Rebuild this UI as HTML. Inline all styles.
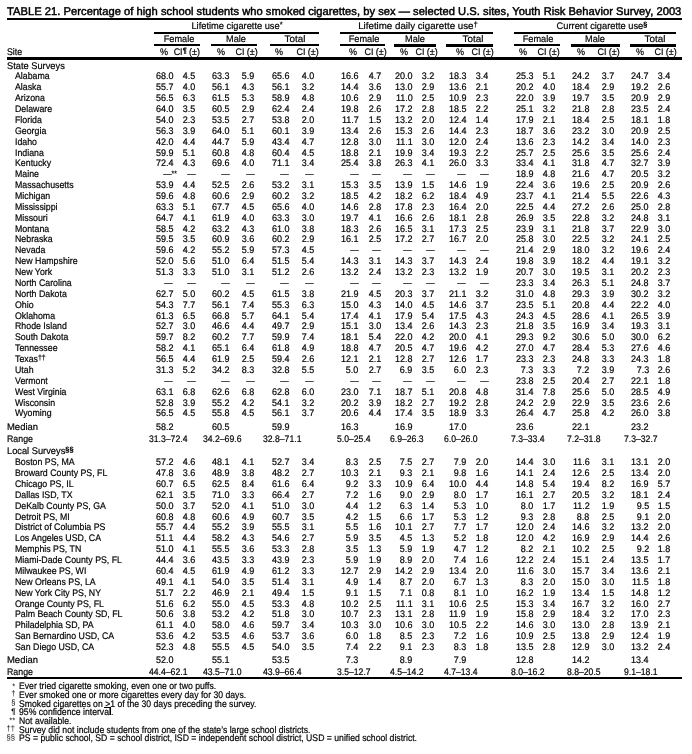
<!DOCTYPE html>
<html><head><meta charset="utf-8"><title>Table 21</title>
<style>
html,body{margin:0;padding:0;background:#fff;}
body{width:692px;height:754px;position:relative;overflow:hidden;font-family:"Liberation Sans",sans-serif;font-size:9.55px;color:#000;text-rendering:geometricPrecision;}
#w{-webkit-text-stroke:0.2px #000;left:0;top:0;width:692px;height:754px;will-change:transform;}
div{position:absolute;white-space:nowrap;}
.r{background:#000;}
.title{-webkit-text-stroke:0.45px #000;font-weight:normal;letter-spacing:0.03px;}
sup{font-size:7.6px;vertical-align:baseline;position:relative;top:-2.2px;line-height:0;}
sup.b{font-weight:bold;}
div.fs{-webkit-text-stroke:0;}
sup.h{position:absolute;left:100%;top:auto;bottom:7px;}
u{text-decoration:underline;}
</style></head><body><div id="w">
<div class="title" style="top:5px;line-height:15px;font-size:11.2px;left:6.90px;transform:scaleX(0.998);transform-origin:0 0;">TABLE 21. Percentage of high school students who smoked cigarettes, by sex — selected U.S. sites, Youth Risk Behavior Survey, 2003</div>
<div class="r" style="left:6.90px;width:675.10px;top:18.00px;height:1.60px"></div>
<div style="top:20px;line-height:13px;left:136.60px;width:200px;text-align:center;transform:scaleX(0.972);transform-origin:50% 0;">Lifetime cigarette use<sup>*</sup></div>
<div style="top:20px;line-height:13px;left:318.25px;width:200px;text-align:center;transform:scaleX(1.02);transform-origin:50% 0;">Lifetime daily cigarette use<sup>†</sup></div>
<div style="top:20px;line-height:13px;left:501.50px;width:200px;text-align:center;transform:scaleX(0.972);transform-origin:50% 0;">Current cigarette use<sup class="b">§</sup></div>
<div class="r" style="left:153.75px;width:165.00px;top:32.20px;height:1.40px"></div>
<div class="r" style="left:340.00px;width:153.00px;top:32.00px;height:1.90px"></div>
<div class="r" style="left:514.25px;width:161.50px;top:32.00px;height:1.90px"></div>
<div style="top:33px;line-height:13px;left:79.40px;width:200px;text-align:center;transform:scaleX(0.96);transform-origin:50% 0;">Female</div>
<div class="r" style="left:153.75px;width:46.25px;top:43.95px;height:1.85px"></div>
<div style="top:33px;line-height:13px;left:135.60px;width:200px;text-align:center;transform:scaleX(0.96);transform-origin:50% 0;">Male</div>
<div class="r" style="left:210.75px;width:46.25px;top:43.95px;height:1.85px"></div>
<div style="top:33px;line-height:13px;left:194.75px;width:200px;text-align:center;transform:scaleX(1.03);transform-origin:50% 0;">Total</div>
<div class="r" style="left:270.00px;width:48.75px;top:43.95px;height:1.85px"></div>
<div style="top:33px;line-height:13px;left:264.00px;width:200px;text-align:center;transform:scaleX(0.96);transform-origin:50% 0;">Female</div>
<div class="r" style="left:340.00px;width:45.00px;top:43.95px;height:1.85px"></div>
<div style="top:33px;line-height:13px;left:315.00px;width:200px;text-align:center;transform:scaleX(0.96);transform-origin:50% 0;">Male</div>
<div class="r" style="left:394.00px;width:42.25px;top:43.95px;height:2.85px"></div>
<div style="top:33px;line-height:13px;left:372.50px;width:200px;text-align:center;transform:scaleX(1.03);transform-origin:50% 0;">Total</div>
<div class="r" style="left:446.25px;width:46.75px;top:43.95px;height:2.85px"></div>
<div style="top:33px;line-height:13px;left:437.75px;width:200px;text-align:center;transform:scaleX(0.96);transform-origin:50% 0;">Female</div>
<div class="r" style="left:514.25px;width:45.50px;top:43.95px;height:1.85px"></div>
<div style="top:33px;line-height:13px;left:495.00px;width:200px;text-align:center;transform:scaleX(0.96);transform-origin:50% 0;">Male</div>
<div class="r" style="left:571.00px;width:48.75px;top:43.95px;height:2.85px"></div>
<div style="top:33px;line-height:13px;left:555.25px;width:200px;text-align:center;transform:scaleX(1.03);transform-origin:50% 0;">Total</div>
<div class="r" style="left:630.25px;width:45.50px;top:43.95px;height:2.85px"></div>
<div style="top:46px;line-height:13px;left:64.25px;width:200px;text-align:center;transform:scaleX(0.942);transform-origin:50% 0;">%</div>
<div style="top:46px;line-height:13px;right:491.70px;text-align:right;transform:scaleX(0.942);transform-origin:100% 0;">CI<sup class="b">¶</sup> (±)</div>
<div style="top:46px;line-height:13px;left:120.50px;width:200px;text-align:center;transform:scaleX(0.942);transform-origin:50% 0;">%</div>
<div style="top:46px;line-height:13px;right:434.70px;text-align:right;transform:scaleX(0.942);transform-origin:100% 0;">CI (±)</div>
<div style="top:46px;line-height:13px;left:179.10px;width:200px;text-align:center;transform:scaleX(0.942);transform-origin:50% 0;">%</div>
<div style="top:46px;line-height:13px;right:373.70px;text-align:right;transform:scaleX(0.942);transform-origin:100% 0;">CI (±)</div>
<div style="top:46px;line-height:13px;left:252.50px;width:200px;text-align:center;transform:scaleX(0.942);transform-origin:50% 0;">%</div>
<div style="top:46px;line-height:13px;right:305.45px;text-align:right;transform:scaleX(0.942);transform-origin:100% 0;">CI (±)</div>
<div style="top:46px;line-height:13px;left:303.75px;width:200px;text-align:center;transform:scaleX(0.942);transform-origin:50% 0;">%</div>
<div style="top:46px;line-height:13px;right:254.70px;text-align:right;transform:scaleX(0.942);transform-origin:100% 0;">CI (±)</div>
<div style="top:46px;line-height:13px;left:360.00px;width:200px;text-align:center;transform:scaleX(0.942);transform-origin:50% 0;">%</div>
<div style="top:46px;line-height:13px;right:198.70px;text-align:right;transform:scaleX(0.942);transform-origin:100% 0;">CI (±)</div>
<div style="top:46px;line-height:13px;left:422.90px;width:200px;text-align:center;transform:scaleX(0.942);transform-origin:50% 0;">%</div>
<div style="top:46px;line-height:13px;right:132.20px;text-align:right;transform:scaleX(0.942);transform-origin:100% 0;">CI (±)</div>
<div style="top:46px;line-height:13px;left:480.90px;width:200px;text-align:center;transform:scaleX(0.942);transform-origin:50% 0;">%</div>
<div style="top:46px;line-height:13px;right:71.95px;text-align:right;transform:scaleX(0.942);transform-origin:100% 0;">CI (±)</div>
<div style="top:46px;line-height:13px;left:540.00px;width:200px;text-align:center;transform:scaleX(0.942);transform-origin:50% 0;">%</div>
<div style="top:46px;line-height:13px;right:15.70px;text-align:right;transform:scaleX(0.942);transform-origin:100% 0;">CI (±)</div>
<div style="top:46px;line-height:13px;left:7.20px;transform:scaleX(0.921);transform-origin:0 0;">Site</div>
<div class="r" style="left:6.90px;width:675.10px;top:57.25px;height:2.75px"></div>
<div style="top:60px;line-height:13px;left:7.20px;transform:scaleX(0.972);transform-origin:0 0;">State Surveys</div>
<div style="top:70px;line-height:13px;left:15.20px;transform:scaleX(0.921);transform-origin:0 0;">Alabama</div>
<div style="top:70px;line-height:13px;right:518.60px;text-align:right;transform:scaleX(0.942);transform-origin:100% 0;">68.0</div>
<div style="top:70px;line-height:13px;right:496.60px;text-align:right;transform:scaleX(0.942);transform-origin:100% 0;">4.5</div>
<div style="top:70px;line-height:13px;right:462.10px;text-align:right;transform:scaleX(0.942);transform-origin:100% 0;">63.3</div>
<div style="top:70px;line-height:13px;right:437.85px;text-align:right;transform:scaleX(0.942);transform-origin:100% 0;">5.9</div>
<div style="top:70px;line-height:13px;right:402.85px;text-align:right;transform:scaleX(0.942);transform-origin:100% 0;">65.6</div>
<div style="top:70px;line-height:13px;right:378.20px;text-align:right;transform:scaleX(0.942);transform-origin:100% 0;">4.0</div>
<div style="top:70px;line-height:13px;right:333.40px;text-align:right;transform:scaleX(0.942);transform-origin:100% 0;">16.6</div>
<div style="top:70px;line-height:13px;right:311.10px;text-align:right;transform:scaleX(0.942);transform-origin:100% 0;">4.7</div>
<div style="top:70px;line-height:13px;right:279.60px;text-align:right;transform:scaleX(0.942);transform-origin:100% 0;">20.0</div>
<div style="top:70px;line-height:13px;right:257.40px;text-align:right;transform:scaleX(0.942);transform-origin:100% 0;">3.2</div>
<div style="top:70px;line-height:13px;right:225.70px;text-align:right;transform:scaleX(0.942);transform-origin:100% 0;">18.3</div>
<div style="top:70px;line-height:13px;right:203.60px;text-align:right;transform:scaleX(0.942);transform-origin:100% 0;">3.4</div>
<div style="top:70px;line-height:13px;right:158.35px;text-align:right;transform:scaleX(0.942);transform-origin:100% 0;">25.3</div>
<div style="top:70px;line-height:13px;right:136.85px;text-align:right;transform:scaleX(0.942);transform-origin:100% 0;">5.1</div>
<div style="top:70px;line-height:13px;right:102.60px;text-align:right;transform:scaleX(0.942);transform-origin:100% 0;">24.2</div>
<div style="top:70px;line-height:13px;right:77.60px;text-align:right;transform:scaleX(0.942);transform-origin:100% 0;">3.7</div>
<div style="top:70px;line-height:13px;right:43.10px;text-align:right;transform:scaleX(0.942);transform-origin:100% 0;">24.7</div>
<div style="top:70px;line-height:13px;right:21.35px;text-align:right;transform:scaleX(0.942);transform-origin:100% 0;">3.4</div>
<div style="top:81px;line-height:13px;left:15.20px;transform:scaleX(0.921);transform-origin:0 0;">Alaska</div>
<div style="top:81px;line-height:13px;right:518.60px;text-align:right;transform:scaleX(0.942);transform-origin:100% 0;">55.7</div>
<div style="top:81px;line-height:13px;right:496.60px;text-align:right;transform:scaleX(0.942);transform-origin:100% 0;">4.0</div>
<div style="top:81px;line-height:13px;right:462.10px;text-align:right;transform:scaleX(0.942);transform-origin:100% 0;">56.1</div>
<div style="top:81px;line-height:13px;right:437.85px;text-align:right;transform:scaleX(0.942);transform-origin:100% 0;">4.3</div>
<div style="top:81px;line-height:13px;right:402.85px;text-align:right;transform:scaleX(0.942);transform-origin:100% 0;">56.1</div>
<div style="top:81px;line-height:13px;right:378.20px;text-align:right;transform:scaleX(0.942);transform-origin:100% 0;">3.2</div>
<div style="top:81px;line-height:13px;right:333.40px;text-align:right;transform:scaleX(0.942);transform-origin:100% 0;">14.4</div>
<div style="top:81px;line-height:13px;right:311.10px;text-align:right;transform:scaleX(0.942);transform-origin:100% 0;">3.6</div>
<div style="top:81px;line-height:13px;right:279.60px;text-align:right;transform:scaleX(0.942);transform-origin:100% 0;">13.0</div>
<div style="top:81px;line-height:13px;right:257.40px;text-align:right;transform:scaleX(0.942);transform-origin:100% 0;">2.9</div>
<div style="top:81px;line-height:13px;right:225.70px;text-align:right;transform:scaleX(0.942);transform-origin:100% 0;">13.6</div>
<div style="top:81px;line-height:13px;right:203.60px;text-align:right;transform:scaleX(0.942);transform-origin:100% 0;">2.1</div>
<div style="top:81px;line-height:13px;right:158.35px;text-align:right;transform:scaleX(0.942);transform-origin:100% 0;">20.2</div>
<div style="top:81px;line-height:13px;right:136.85px;text-align:right;transform:scaleX(0.942);transform-origin:100% 0;">4.0</div>
<div style="top:81px;line-height:13px;right:102.60px;text-align:right;transform:scaleX(0.942);transform-origin:100% 0;">18.4</div>
<div style="top:81px;line-height:13px;right:77.60px;text-align:right;transform:scaleX(0.942);transform-origin:100% 0;">2.9</div>
<div style="top:81px;line-height:13px;right:43.10px;text-align:right;transform:scaleX(0.942);transform-origin:100% 0;">19.2</div>
<div style="top:81px;line-height:13px;right:21.35px;text-align:right;transform:scaleX(0.942);transform-origin:100% 0;">2.6</div>
<div style="top:92px;line-height:13px;left:15.20px;transform:scaleX(0.921);transform-origin:0 0;">Arizona</div>
<div style="top:92px;line-height:13px;right:518.60px;text-align:right;transform:scaleX(0.942);transform-origin:100% 0;">56.5</div>
<div style="top:92px;line-height:13px;right:496.60px;text-align:right;transform:scaleX(0.942);transform-origin:100% 0;">6.3</div>
<div style="top:92px;line-height:13px;right:462.10px;text-align:right;transform:scaleX(0.942);transform-origin:100% 0;">61.5</div>
<div style="top:92px;line-height:13px;right:437.85px;text-align:right;transform:scaleX(0.942);transform-origin:100% 0;">5.3</div>
<div style="top:92px;line-height:13px;right:402.85px;text-align:right;transform:scaleX(0.942);transform-origin:100% 0;">58.9</div>
<div style="top:92px;line-height:13px;right:378.20px;text-align:right;transform:scaleX(0.942);transform-origin:100% 0;">4.8</div>
<div style="top:92px;line-height:13px;right:333.40px;text-align:right;transform:scaleX(0.942);transform-origin:100% 0;">10.6</div>
<div style="top:92px;line-height:13px;right:311.10px;text-align:right;transform:scaleX(0.942);transform-origin:100% 0;">2.9</div>
<div style="top:92px;line-height:13px;right:279.60px;text-align:right;transform:scaleX(0.942);transform-origin:100% 0;">11.0</div>
<div style="top:92px;line-height:13px;right:257.40px;text-align:right;transform:scaleX(0.942);transform-origin:100% 0;">2.5</div>
<div style="top:92px;line-height:13px;right:225.70px;text-align:right;transform:scaleX(0.942);transform-origin:100% 0;">10.9</div>
<div style="top:92px;line-height:13px;right:203.60px;text-align:right;transform:scaleX(0.942);transform-origin:100% 0;">2.3</div>
<div style="top:92px;line-height:13px;right:158.35px;text-align:right;transform:scaleX(0.942);transform-origin:100% 0;">22.0</div>
<div style="top:92px;line-height:13px;right:136.85px;text-align:right;transform:scaleX(0.942);transform-origin:100% 0;">3.9</div>
<div style="top:92px;line-height:13px;right:102.60px;text-align:right;transform:scaleX(0.942);transform-origin:100% 0;">19.7</div>
<div style="top:92px;line-height:13px;right:77.60px;text-align:right;transform:scaleX(0.942);transform-origin:100% 0;">3.5</div>
<div style="top:92px;line-height:13px;right:43.10px;text-align:right;transform:scaleX(0.942);transform-origin:100% 0;">20.9</div>
<div style="top:92px;line-height:13px;right:21.35px;text-align:right;transform:scaleX(0.942);transform-origin:100% 0;">2.9</div>
<div style="top:103px;line-height:13px;left:15.20px;transform:scaleX(0.921);transform-origin:0 0;">Delaware</div>
<div style="top:103px;line-height:13px;right:518.60px;text-align:right;transform:scaleX(0.942);transform-origin:100% 0;">64.0</div>
<div style="top:103px;line-height:13px;right:496.60px;text-align:right;transform:scaleX(0.942);transform-origin:100% 0;">3.5</div>
<div style="top:103px;line-height:13px;right:462.10px;text-align:right;transform:scaleX(0.942);transform-origin:100% 0;">60.5</div>
<div style="top:103px;line-height:13px;right:437.85px;text-align:right;transform:scaleX(0.942);transform-origin:100% 0;">2.9</div>
<div style="top:103px;line-height:13px;right:402.85px;text-align:right;transform:scaleX(0.942);transform-origin:100% 0;">62.4</div>
<div style="top:103px;line-height:13px;right:378.20px;text-align:right;transform:scaleX(0.942);transform-origin:100% 0;">2.4</div>
<div style="top:103px;line-height:13px;right:333.40px;text-align:right;transform:scaleX(0.942);transform-origin:100% 0;">19.8</div>
<div style="top:103px;line-height:13px;right:311.10px;text-align:right;transform:scaleX(0.942);transform-origin:100% 0;">2.6</div>
<div style="top:103px;line-height:13px;right:279.60px;text-align:right;transform:scaleX(0.942);transform-origin:100% 0;">17.2</div>
<div style="top:103px;line-height:13px;right:257.40px;text-align:right;transform:scaleX(0.942);transform-origin:100% 0;">2.8</div>
<div style="top:103px;line-height:13px;right:225.70px;text-align:right;transform:scaleX(0.942);transform-origin:100% 0;">18.5</div>
<div style="top:103px;line-height:13px;right:203.60px;text-align:right;transform:scaleX(0.942);transform-origin:100% 0;">2.2</div>
<div style="top:103px;line-height:13px;right:158.35px;text-align:right;transform:scaleX(0.942);transform-origin:100% 0;">25.1</div>
<div style="top:103px;line-height:13px;right:136.85px;text-align:right;transform:scaleX(0.942);transform-origin:100% 0;">3.2</div>
<div style="top:103px;line-height:13px;right:102.60px;text-align:right;transform:scaleX(0.942);transform-origin:100% 0;">21.8</div>
<div style="top:103px;line-height:13px;right:77.60px;text-align:right;transform:scaleX(0.942);transform-origin:100% 0;">2.8</div>
<div style="top:103px;line-height:13px;right:43.10px;text-align:right;transform:scaleX(0.942);transform-origin:100% 0;">23.5</div>
<div style="top:103px;line-height:13px;right:21.35px;text-align:right;transform:scaleX(0.942);transform-origin:100% 0;">2.4</div>
<div style="top:114px;line-height:13px;left:15.20px;transform:scaleX(0.921);transform-origin:0 0;">Florida</div>
<div style="top:114px;line-height:13px;right:518.60px;text-align:right;transform:scaleX(0.942);transform-origin:100% 0;">54.0</div>
<div style="top:114px;line-height:13px;right:496.60px;text-align:right;transform:scaleX(0.942);transform-origin:100% 0;">2.3</div>
<div style="top:114px;line-height:13px;right:462.10px;text-align:right;transform:scaleX(0.942);transform-origin:100% 0;">53.5</div>
<div style="top:114px;line-height:13px;right:437.85px;text-align:right;transform:scaleX(0.942);transform-origin:100% 0;">2.7</div>
<div style="top:114px;line-height:13px;right:402.85px;text-align:right;transform:scaleX(0.942);transform-origin:100% 0;">53.8</div>
<div style="top:114px;line-height:13px;right:378.20px;text-align:right;transform:scaleX(0.942);transform-origin:100% 0;">2.0</div>
<div style="top:114px;line-height:13px;right:333.40px;text-align:right;transform:scaleX(0.942);transform-origin:100% 0;">11.7</div>
<div style="top:114px;line-height:13px;right:311.10px;text-align:right;transform:scaleX(0.942);transform-origin:100% 0;">1.5</div>
<div style="top:114px;line-height:13px;right:279.60px;text-align:right;transform:scaleX(0.942);transform-origin:100% 0;">13.2</div>
<div style="top:114px;line-height:13px;right:257.40px;text-align:right;transform:scaleX(0.942);transform-origin:100% 0;">2.0</div>
<div style="top:114px;line-height:13px;right:225.70px;text-align:right;transform:scaleX(0.942);transform-origin:100% 0;">12.4</div>
<div style="top:114px;line-height:13px;right:203.60px;text-align:right;transform:scaleX(0.942);transform-origin:100% 0;">1.4</div>
<div style="top:114px;line-height:13px;right:158.35px;text-align:right;transform:scaleX(0.942);transform-origin:100% 0;">17.9</div>
<div style="top:114px;line-height:13px;right:136.85px;text-align:right;transform:scaleX(0.942);transform-origin:100% 0;">2.1</div>
<div style="top:114px;line-height:13px;right:102.60px;text-align:right;transform:scaleX(0.942);transform-origin:100% 0;">18.4</div>
<div style="top:114px;line-height:13px;right:77.60px;text-align:right;transform:scaleX(0.942);transform-origin:100% 0;">2.5</div>
<div style="top:114px;line-height:13px;right:43.10px;text-align:right;transform:scaleX(0.942);transform-origin:100% 0;">18.1</div>
<div style="top:114px;line-height:13px;right:21.35px;text-align:right;transform:scaleX(0.942);transform-origin:100% 0;">1.8</div>
<div style="top:125px;line-height:13px;left:15.20px;transform:scaleX(0.921);transform-origin:0 0;">Georgia</div>
<div style="top:125px;line-height:13px;right:518.60px;text-align:right;transform:scaleX(0.942);transform-origin:100% 0;">56.3</div>
<div style="top:125px;line-height:13px;right:496.60px;text-align:right;transform:scaleX(0.942);transform-origin:100% 0;">3.9</div>
<div style="top:125px;line-height:13px;right:462.10px;text-align:right;transform:scaleX(0.942);transform-origin:100% 0;">64.0</div>
<div style="top:125px;line-height:13px;right:437.85px;text-align:right;transform:scaleX(0.942);transform-origin:100% 0;">5.1</div>
<div style="top:125px;line-height:13px;right:402.85px;text-align:right;transform:scaleX(0.942);transform-origin:100% 0;">60.1</div>
<div style="top:125px;line-height:13px;right:378.20px;text-align:right;transform:scaleX(0.942);transform-origin:100% 0;">3.9</div>
<div style="top:125px;line-height:13px;right:333.40px;text-align:right;transform:scaleX(0.942);transform-origin:100% 0;">13.4</div>
<div style="top:125px;line-height:13px;right:311.10px;text-align:right;transform:scaleX(0.942);transform-origin:100% 0;">2.6</div>
<div style="top:125px;line-height:13px;right:279.60px;text-align:right;transform:scaleX(0.942);transform-origin:100% 0;">15.3</div>
<div style="top:125px;line-height:13px;right:257.40px;text-align:right;transform:scaleX(0.942);transform-origin:100% 0;">2.6</div>
<div style="top:125px;line-height:13px;right:225.70px;text-align:right;transform:scaleX(0.942);transform-origin:100% 0;">14.4</div>
<div style="top:125px;line-height:13px;right:203.60px;text-align:right;transform:scaleX(0.942);transform-origin:100% 0;">2.3</div>
<div style="top:125px;line-height:13px;right:158.35px;text-align:right;transform:scaleX(0.942);transform-origin:100% 0;">18.7</div>
<div style="top:125px;line-height:13px;right:136.85px;text-align:right;transform:scaleX(0.942);transform-origin:100% 0;">3.6</div>
<div style="top:125px;line-height:13px;right:102.60px;text-align:right;transform:scaleX(0.942);transform-origin:100% 0;">23.2</div>
<div style="top:125px;line-height:13px;right:77.60px;text-align:right;transform:scaleX(0.942);transform-origin:100% 0;">3.0</div>
<div style="top:125px;line-height:13px;right:43.10px;text-align:right;transform:scaleX(0.942);transform-origin:100% 0;">20.9</div>
<div style="top:125px;line-height:13px;right:21.35px;text-align:right;transform:scaleX(0.942);transform-origin:100% 0;">2.5</div>
<div style="top:136px;line-height:13px;left:15.20px;transform:scaleX(0.921);transform-origin:0 0;">Idaho</div>
<div style="top:136px;line-height:13px;right:518.60px;text-align:right;transform:scaleX(0.942);transform-origin:100% 0;">42.0</div>
<div style="top:136px;line-height:13px;right:496.60px;text-align:right;transform:scaleX(0.942);transform-origin:100% 0;">4.4</div>
<div style="top:136px;line-height:13px;right:462.10px;text-align:right;transform:scaleX(0.942);transform-origin:100% 0;">44.7</div>
<div style="top:136px;line-height:13px;right:437.85px;text-align:right;transform:scaleX(0.942);transform-origin:100% 0;">5.9</div>
<div style="top:136px;line-height:13px;right:402.85px;text-align:right;transform:scaleX(0.942);transform-origin:100% 0;">43.4</div>
<div style="top:136px;line-height:13px;right:378.20px;text-align:right;transform:scaleX(0.942);transform-origin:100% 0;">4.7</div>
<div style="top:136px;line-height:13px;right:333.40px;text-align:right;transform:scaleX(0.942);transform-origin:100% 0;">12.8</div>
<div style="top:136px;line-height:13px;right:311.10px;text-align:right;transform:scaleX(0.942);transform-origin:100% 0;">3.0</div>
<div style="top:136px;line-height:13px;right:279.60px;text-align:right;transform:scaleX(0.942);transform-origin:100% 0;">11.1</div>
<div style="top:136px;line-height:13px;right:257.40px;text-align:right;transform:scaleX(0.942);transform-origin:100% 0;">3.0</div>
<div style="top:136px;line-height:13px;right:225.70px;text-align:right;transform:scaleX(0.942);transform-origin:100% 0;">12.0</div>
<div style="top:136px;line-height:13px;right:203.60px;text-align:right;transform:scaleX(0.942);transform-origin:100% 0;">2.4</div>
<div style="top:136px;line-height:13px;right:158.35px;text-align:right;transform:scaleX(0.942);transform-origin:100% 0;">13.6</div>
<div style="top:136px;line-height:13px;right:136.85px;text-align:right;transform:scaleX(0.942);transform-origin:100% 0;">2.3</div>
<div style="top:136px;line-height:13px;right:102.60px;text-align:right;transform:scaleX(0.942);transform-origin:100% 0;">14.2</div>
<div style="top:136px;line-height:13px;right:77.60px;text-align:right;transform:scaleX(0.942);transform-origin:100% 0;">3.4</div>
<div style="top:136px;line-height:13px;right:43.10px;text-align:right;transform:scaleX(0.942);transform-origin:100% 0;">14.0</div>
<div style="top:136px;line-height:13px;right:21.35px;text-align:right;transform:scaleX(0.942);transform-origin:100% 0;">2.3</div>
<div style="top:147px;line-height:13px;left:15.20px;transform:scaleX(0.921);transform-origin:0 0;">Indiana</div>
<div style="top:147px;line-height:13px;right:518.60px;text-align:right;transform:scaleX(0.942);transform-origin:100% 0;">59.9</div>
<div style="top:147px;line-height:13px;right:496.60px;text-align:right;transform:scaleX(0.942);transform-origin:100% 0;">5.1</div>
<div style="top:147px;line-height:13px;right:462.10px;text-align:right;transform:scaleX(0.942);transform-origin:100% 0;">60.8</div>
<div style="top:147px;line-height:13px;right:437.85px;text-align:right;transform:scaleX(0.942);transform-origin:100% 0;">4.8</div>
<div style="top:147px;line-height:13px;right:402.85px;text-align:right;transform:scaleX(0.942);transform-origin:100% 0;">60.4</div>
<div style="top:147px;line-height:13px;right:378.20px;text-align:right;transform:scaleX(0.942);transform-origin:100% 0;">4.5</div>
<div style="top:147px;line-height:13px;right:333.40px;text-align:right;transform:scaleX(0.942);transform-origin:100% 0;">18.8</div>
<div style="top:147px;line-height:13px;right:311.10px;text-align:right;transform:scaleX(0.942);transform-origin:100% 0;">2.1</div>
<div style="top:147px;line-height:13px;right:279.60px;text-align:right;transform:scaleX(0.942);transform-origin:100% 0;">19.9</div>
<div style="top:147px;line-height:13px;right:257.40px;text-align:right;transform:scaleX(0.942);transform-origin:100% 0;">3.4</div>
<div style="top:147px;line-height:13px;right:225.70px;text-align:right;transform:scaleX(0.942);transform-origin:100% 0;">19.3</div>
<div style="top:147px;line-height:13px;right:203.60px;text-align:right;transform:scaleX(0.942);transform-origin:100% 0;">2.2</div>
<div style="top:147px;line-height:13px;right:158.35px;text-align:right;transform:scaleX(0.942);transform-origin:100% 0;">25.7</div>
<div style="top:147px;line-height:13px;right:136.85px;text-align:right;transform:scaleX(0.942);transform-origin:100% 0;">2.5</div>
<div style="top:147px;line-height:13px;right:102.60px;text-align:right;transform:scaleX(0.942);transform-origin:100% 0;">25.6</div>
<div style="top:147px;line-height:13px;right:77.60px;text-align:right;transform:scaleX(0.942);transform-origin:100% 0;">3.5</div>
<div style="top:147px;line-height:13px;right:43.10px;text-align:right;transform:scaleX(0.942);transform-origin:100% 0;">25.6</div>
<div style="top:147px;line-height:13px;right:21.35px;text-align:right;transform:scaleX(0.942);transform-origin:100% 0;">2.4</div>
<div style="top:157px;line-height:13px;left:15.20px;transform:scaleX(0.921);transform-origin:0 0;">Kentucky</div>
<div style="top:157px;line-height:13px;right:518.60px;text-align:right;transform:scaleX(0.942);transform-origin:100% 0;">72.4</div>
<div style="top:157px;line-height:13px;right:496.60px;text-align:right;transform:scaleX(0.942);transform-origin:100% 0;">4.3</div>
<div style="top:157px;line-height:13px;right:462.10px;text-align:right;transform:scaleX(0.942);transform-origin:100% 0;">69.6</div>
<div style="top:157px;line-height:13px;right:437.85px;text-align:right;transform:scaleX(0.942);transform-origin:100% 0;">4.0</div>
<div style="top:157px;line-height:13px;right:402.85px;text-align:right;transform:scaleX(0.942);transform-origin:100% 0;">71.1</div>
<div style="top:157px;line-height:13px;right:378.20px;text-align:right;transform:scaleX(0.942);transform-origin:100% 0;">3.4</div>
<div style="top:157px;line-height:13px;right:333.40px;text-align:right;transform:scaleX(0.942);transform-origin:100% 0;">25.4</div>
<div style="top:157px;line-height:13px;right:311.10px;text-align:right;transform:scaleX(0.942);transform-origin:100% 0;">3.8</div>
<div style="top:157px;line-height:13px;right:279.60px;text-align:right;transform:scaleX(0.942);transform-origin:100% 0;">26.3</div>
<div style="top:157px;line-height:13px;right:257.40px;text-align:right;transform:scaleX(0.942);transform-origin:100% 0;">4.1</div>
<div style="top:157px;line-height:13px;right:225.70px;text-align:right;transform:scaleX(0.942);transform-origin:100% 0;">26.0</div>
<div style="top:157px;line-height:13px;right:203.60px;text-align:right;transform:scaleX(0.942);transform-origin:100% 0;">3.3</div>
<div style="top:157px;line-height:13px;right:158.35px;text-align:right;transform:scaleX(0.942);transform-origin:100% 0;">33.4</div>
<div style="top:157px;line-height:13px;right:136.85px;text-align:right;transform:scaleX(0.942);transform-origin:100% 0;">4.1</div>
<div style="top:157px;line-height:13px;right:102.60px;text-align:right;transform:scaleX(0.942);transform-origin:100% 0;">31.8</div>
<div style="top:157px;line-height:13px;right:77.60px;text-align:right;transform:scaleX(0.942);transform-origin:100% 0;">4.7</div>
<div style="top:157px;line-height:13px;right:43.10px;text-align:right;transform:scaleX(0.942);transform-origin:100% 0;">32.7</div>
<div style="top:157px;line-height:13px;right:21.35px;text-align:right;transform:scaleX(0.942);transform-origin:100% 0;">3.9</div>
<div style="top:168px;line-height:13px;left:15.20px;transform:scaleX(0.921);transform-origin:0 0;">Maine</div>
<div style="top:168px;line-height:13px;right:520.20px;text-align:right;transform:scaleX(0.88);transform-origin:100% 0;">—<sup class="h">**</sup></div>
<div style="top:168px;line-height:13px;right:496.50px;text-align:right;transform:scaleX(0.88);transform-origin:100% 0;">—</div>
<div style="top:168px;line-height:13px;right:462.50px;text-align:right;transform:scaleX(0.88);transform-origin:100% 0;">—</div>
<div style="top:168px;line-height:13px;right:437.75px;text-align:right;transform:scaleX(0.88);transform-origin:100% 0;">—</div>
<div style="top:168px;line-height:13px;right:403.25px;text-align:right;transform:scaleX(0.88);transform-origin:100% 0;">—</div>
<div style="top:168px;line-height:13px;right:378.10px;text-align:right;transform:scaleX(0.88);transform-origin:100% 0;">—</div>
<div style="top:168px;line-height:13px;right:333.80px;text-align:right;transform:scaleX(0.88);transform-origin:100% 0;">—</div>
<div style="top:168px;line-height:13px;right:311.00px;text-align:right;transform:scaleX(0.88);transform-origin:100% 0;">—</div>
<div style="top:168px;line-height:13px;right:280.00px;text-align:right;transform:scaleX(0.88);transform-origin:100% 0;">—</div>
<div style="top:168px;line-height:13px;right:257.30px;text-align:right;transform:scaleX(0.88);transform-origin:100% 0;">—</div>
<div style="top:168px;line-height:13px;right:226.10px;text-align:right;transform:scaleX(0.88);transform-origin:100% 0;">—</div>
<div style="top:168px;line-height:13px;right:203.50px;text-align:right;transform:scaleX(0.88);transform-origin:100% 0;">—</div>
<div style="top:168px;line-height:13px;right:158.35px;text-align:right;transform:scaleX(0.942);transform-origin:100% 0;">18.9</div>
<div style="top:168px;line-height:13px;right:136.85px;text-align:right;transform:scaleX(0.942);transform-origin:100% 0;">4.8</div>
<div style="top:168px;line-height:13px;right:102.60px;text-align:right;transform:scaleX(0.942);transform-origin:100% 0;">21.6</div>
<div style="top:168px;line-height:13px;right:77.60px;text-align:right;transform:scaleX(0.942);transform-origin:100% 0;">4.7</div>
<div style="top:168px;line-height:13px;right:43.10px;text-align:right;transform:scaleX(0.942);transform-origin:100% 0;">20.5</div>
<div style="top:168px;line-height:13px;right:21.35px;text-align:right;transform:scaleX(0.942);transform-origin:100% 0;">3.2</div>
<div style="top:179px;line-height:13px;left:15.20px;transform:scaleX(0.921);transform-origin:0 0;">Massachusetts</div>
<div style="top:179px;line-height:13px;right:518.60px;text-align:right;transform:scaleX(0.942);transform-origin:100% 0;">53.9</div>
<div style="top:179px;line-height:13px;right:496.60px;text-align:right;transform:scaleX(0.942);transform-origin:100% 0;">4.4</div>
<div style="top:179px;line-height:13px;right:462.10px;text-align:right;transform:scaleX(0.942);transform-origin:100% 0;">52.5</div>
<div style="top:179px;line-height:13px;right:437.85px;text-align:right;transform:scaleX(0.942);transform-origin:100% 0;">2.6</div>
<div style="top:179px;line-height:13px;right:402.85px;text-align:right;transform:scaleX(0.942);transform-origin:100% 0;">53.2</div>
<div style="top:179px;line-height:13px;right:378.20px;text-align:right;transform:scaleX(0.942);transform-origin:100% 0;">3.1</div>
<div style="top:179px;line-height:13px;right:333.40px;text-align:right;transform:scaleX(0.942);transform-origin:100% 0;">15.3</div>
<div style="top:179px;line-height:13px;right:311.10px;text-align:right;transform:scaleX(0.942);transform-origin:100% 0;">3.5</div>
<div style="top:179px;line-height:13px;right:279.60px;text-align:right;transform:scaleX(0.942);transform-origin:100% 0;">13.9</div>
<div style="top:179px;line-height:13px;right:257.40px;text-align:right;transform:scaleX(0.942);transform-origin:100% 0;">1.5</div>
<div style="top:179px;line-height:13px;right:225.70px;text-align:right;transform:scaleX(0.942);transform-origin:100% 0;">14.6</div>
<div style="top:179px;line-height:13px;right:203.60px;text-align:right;transform:scaleX(0.942);transform-origin:100% 0;">1.9</div>
<div style="top:179px;line-height:13px;right:158.35px;text-align:right;transform:scaleX(0.942);transform-origin:100% 0;">22.4</div>
<div style="top:179px;line-height:13px;right:136.85px;text-align:right;transform:scaleX(0.942);transform-origin:100% 0;">3.6</div>
<div style="top:179px;line-height:13px;right:102.60px;text-align:right;transform:scaleX(0.942);transform-origin:100% 0;">19.6</div>
<div style="top:179px;line-height:13px;right:77.60px;text-align:right;transform:scaleX(0.942);transform-origin:100% 0;">2.5</div>
<div style="top:179px;line-height:13px;right:43.10px;text-align:right;transform:scaleX(0.942);transform-origin:100% 0;">20.9</div>
<div style="top:179px;line-height:13px;right:21.35px;text-align:right;transform:scaleX(0.942);transform-origin:100% 0;">2.6</div>
<div style="top:190px;line-height:13px;left:15.20px;transform:scaleX(0.921);transform-origin:0 0;">Michigan</div>
<div style="top:190px;line-height:13px;right:518.60px;text-align:right;transform:scaleX(0.942);transform-origin:100% 0;">59.6</div>
<div style="top:190px;line-height:13px;right:496.60px;text-align:right;transform:scaleX(0.942);transform-origin:100% 0;">4.8</div>
<div style="top:190px;line-height:13px;right:462.10px;text-align:right;transform:scaleX(0.942);transform-origin:100% 0;">60.6</div>
<div style="top:190px;line-height:13px;right:437.85px;text-align:right;transform:scaleX(0.942);transform-origin:100% 0;">2.9</div>
<div style="top:190px;line-height:13px;right:402.85px;text-align:right;transform:scaleX(0.942);transform-origin:100% 0;">60.2</div>
<div style="top:190px;line-height:13px;right:378.20px;text-align:right;transform:scaleX(0.942);transform-origin:100% 0;">3.2</div>
<div style="top:190px;line-height:13px;right:333.40px;text-align:right;transform:scaleX(0.942);transform-origin:100% 0;">18.5</div>
<div style="top:190px;line-height:13px;right:311.10px;text-align:right;transform:scaleX(0.942);transform-origin:100% 0;">4.2</div>
<div style="top:190px;line-height:13px;right:279.60px;text-align:right;transform:scaleX(0.942);transform-origin:100% 0;">18.2</div>
<div style="top:190px;line-height:13px;right:257.40px;text-align:right;transform:scaleX(0.942);transform-origin:100% 0;">6.2</div>
<div style="top:190px;line-height:13px;right:225.70px;text-align:right;transform:scaleX(0.942);transform-origin:100% 0;">18.4</div>
<div style="top:190px;line-height:13px;right:203.60px;text-align:right;transform:scaleX(0.942);transform-origin:100% 0;">4.9</div>
<div style="top:190px;line-height:13px;right:158.35px;text-align:right;transform:scaleX(0.942);transform-origin:100% 0;">23.7</div>
<div style="top:190px;line-height:13px;right:136.85px;text-align:right;transform:scaleX(0.942);transform-origin:100% 0;">4.1</div>
<div style="top:190px;line-height:13px;right:102.60px;text-align:right;transform:scaleX(0.942);transform-origin:100% 0;">21.4</div>
<div style="top:190px;line-height:13px;right:77.60px;text-align:right;transform:scaleX(0.942);transform-origin:100% 0;">5.5</div>
<div style="top:190px;line-height:13px;right:43.10px;text-align:right;transform:scaleX(0.942);transform-origin:100% 0;">22.6</div>
<div style="top:190px;line-height:13px;right:21.35px;text-align:right;transform:scaleX(0.942);transform-origin:100% 0;">4.3</div>
<div style="top:201px;line-height:13px;left:15.20px;transform:scaleX(0.921);transform-origin:0 0;">Mississippi</div>
<div style="top:201px;line-height:13px;right:518.60px;text-align:right;transform:scaleX(0.942);transform-origin:100% 0;">63.3</div>
<div style="top:201px;line-height:13px;right:496.60px;text-align:right;transform:scaleX(0.942);transform-origin:100% 0;">5.1</div>
<div style="top:201px;line-height:13px;right:462.10px;text-align:right;transform:scaleX(0.942);transform-origin:100% 0;">67.7</div>
<div style="top:201px;line-height:13px;right:437.85px;text-align:right;transform:scaleX(0.942);transform-origin:100% 0;">4.5</div>
<div style="top:201px;line-height:13px;right:402.85px;text-align:right;transform:scaleX(0.942);transform-origin:100% 0;">65.6</div>
<div style="top:201px;line-height:13px;right:378.20px;text-align:right;transform:scaleX(0.942);transform-origin:100% 0;">4.0</div>
<div style="top:201px;line-height:13px;right:333.40px;text-align:right;transform:scaleX(0.942);transform-origin:100% 0;">14.6</div>
<div style="top:201px;line-height:13px;right:311.10px;text-align:right;transform:scaleX(0.942);transform-origin:100% 0;">2.8</div>
<div style="top:201px;line-height:13px;right:279.60px;text-align:right;transform:scaleX(0.942);transform-origin:100% 0;">17.8</div>
<div style="top:201px;line-height:13px;right:257.40px;text-align:right;transform:scaleX(0.942);transform-origin:100% 0;">2.3</div>
<div style="top:201px;line-height:13px;right:225.70px;text-align:right;transform:scaleX(0.942);transform-origin:100% 0;">16.4</div>
<div style="top:201px;line-height:13px;right:203.60px;text-align:right;transform:scaleX(0.942);transform-origin:100% 0;">2.0</div>
<div style="top:201px;line-height:13px;right:158.35px;text-align:right;transform:scaleX(0.942);transform-origin:100% 0;">22.5</div>
<div style="top:201px;line-height:13px;right:136.85px;text-align:right;transform:scaleX(0.942);transform-origin:100% 0;">4.4</div>
<div style="top:201px;line-height:13px;right:102.60px;text-align:right;transform:scaleX(0.942);transform-origin:100% 0;">27.2</div>
<div style="top:201px;line-height:13px;right:77.60px;text-align:right;transform:scaleX(0.942);transform-origin:100% 0;">2.6</div>
<div style="top:201px;line-height:13px;right:43.10px;text-align:right;transform:scaleX(0.942);transform-origin:100% 0;">25.0</div>
<div style="top:201px;line-height:13px;right:21.35px;text-align:right;transform:scaleX(0.942);transform-origin:100% 0;">2.8</div>
<div style="top:212px;line-height:13px;left:15.20px;transform:scaleX(0.921);transform-origin:0 0;">Missouri</div>
<div style="top:212px;line-height:13px;right:518.60px;text-align:right;transform:scaleX(0.942);transform-origin:100% 0;">64.7</div>
<div style="top:212px;line-height:13px;right:496.60px;text-align:right;transform:scaleX(0.942);transform-origin:100% 0;">4.1</div>
<div style="top:212px;line-height:13px;right:462.10px;text-align:right;transform:scaleX(0.942);transform-origin:100% 0;">61.9</div>
<div style="top:212px;line-height:13px;right:437.85px;text-align:right;transform:scaleX(0.942);transform-origin:100% 0;">4.0</div>
<div style="top:212px;line-height:13px;right:402.85px;text-align:right;transform:scaleX(0.942);transform-origin:100% 0;">63.3</div>
<div style="top:212px;line-height:13px;right:378.20px;text-align:right;transform:scaleX(0.942);transform-origin:100% 0;">3.0</div>
<div style="top:212px;line-height:13px;right:333.40px;text-align:right;transform:scaleX(0.942);transform-origin:100% 0;">19.7</div>
<div style="top:212px;line-height:13px;right:311.10px;text-align:right;transform:scaleX(0.942);transform-origin:100% 0;">4.1</div>
<div style="top:212px;line-height:13px;right:279.60px;text-align:right;transform:scaleX(0.942);transform-origin:100% 0;">16.6</div>
<div style="top:212px;line-height:13px;right:257.40px;text-align:right;transform:scaleX(0.942);transform-origin:100% 0;">2.6</div>
<div style="top:212px;line-height:13px;right:225.70px;text-align:right;transform:scaleX(0.942);transform-origin:100% 0;">18.1</div>
<div style="top:212px;line-height:13px;right:203.60px;text-align:right;transform:scaleX(0.942);transform-origin:100% 0;">2.8</div>
<div style="top:212px;line-height:13px;right:158.35px;text-align:right;transform:scaleX(0.942);transform-origin:100% 0;">26.9</div>
<div style="top:212px;line-height:13px;right:136.85px;text-align:right;transform:scaleX(0.942);transform-origin:100% 0;">3.5</div>
<div style="top:212px;line-height:13px;right:102.60px;text-align:right;transform:scaleX(0.942);transform-origin:100% 0;">22.8</div>
<div style="top:212px;line-height:13px;right:77.60px;text-align:right;transform:scaleX(0.942);transform-origin:100% 0;">3.2</div>
<div style="top:212px;line-height:13px;right:43.10px;text-align:right;transform:scaleX(0.942);transform-origin:100% 0;">24.8</div>
<div style="top:212px;line-height:13px;right:21.35px;text-align:right;transform:scaleX(0.942);transform-origin:100% 0;">3.1</div>
<div style="top:223px;line-height:13px;left:15.20px;transform:scaleX(0.921);transform-origin:0 0;">Montana</div>
<div style="top:223px;line-height:13px;right:518.60px;text-align:right;transform:scaleX(0.942);transform-origin:100% 0;">58.5</div>
<div style="top:223px;line-height:13px;right:496.60px;text-align:right;transform:scaleX(0.942);transform-origin:100% 0;">4.2</div>
<div style="top:223px;line-height:13px;right:462.10px;text-align:right;transform:scaleX(0.942);transform-origin:100% 0;">63.2</div>
<div style="top:223px;line-height:13px;right:437.85px;text-align:right;transform:scaleX(0.942);transform-origin:100% 0;">4.3</div>
<div style="top:223px;line-height:13px;right:402.85px;text-align:right;transform:scaleX(0.942);transform-origin:100% 0;">61.0</div>
<div style="top:223px;line-height:13px;right:378.20px;text-align:right;transform:scaleX(0.942);transform-origin:100% 0;">3.8</div>
<div style="top:223px;line-height:13px;right:333.40px;text-align:right;transform:scaleX(0.942);transform-origin:100% 0;">18.3</div>
<div style="top:223px;line-height:13px;right:311.10px;text-align:right;transform:scaleX(0.942);transform-origin:100% 0;">2.6</div>
<div style="top:223px;line-height:13px;right:279.60px;text-align:right;transform:scaleX(0.942);transform-origin:100% 0;">16.5</div>
<div style="top:223px;line-height:13px;right:257.40px;text-align:right;transform:scaleX(0.942);transform-origin:100% 0;">3.1</div>
<div style="top:223px;line-height:13px;right:225.70px;text-align:right;transform:scaleX(0.942);transform-origin:100% 0;">17.3</div>
<div style="top:223px;line-height:13px;right:203.60px;text-align:right;transform:scaleX(0.942);transform-origin:100% 0;">2.5</div>
<div style="top:223px;line-height:13px;right:158.35px;text-align:right;transform:scaleX(0.942);transform-origin:100% 0;">23.9</div>
<div style="top:223px;line-height:13px;right:136.85px;text-align:right;transform:scaleX(0.942);transform-origin:100% 0;">3.1</div>
<div style="top:223px;line-height:13px;right:102.60px;text-align:right;transform:scaleX(0.942);transform-origin:100% 0;">21.8</div>
<div style="top:223px;line-height:13px;right:77.60px;text-align:right;transform:scaleX(0.942);transform-origin:100% 0;">3.7</div>
<div style="top:223px;line-height:13px;right:43.10px;text-align:right;transform:scaleX(0.942);transform-origin:100% 0;">22.9</div>
<div style="top:223px;line-height:13px;right:21.35px;text-align:right;transform:scaleX(0.942);transform-origin:100% 0;">3.0</div>
<div style="top:233px;line-height:13px;left:15.20px;transform:scaleX(0.921);transform-origin:0 0;">Nebraska</div>
<div style="top:233px;line-height:13px;right:518.60px;text-align:right;transform:scaleX(0.942);transform-origin:100% 0;">59.5</div>
<div style="top:233px;line-height:13px;right:496.60px;text-align:right;transform:scaleX(0.942);transform-origin:100% 0;">3.5</div>
<div style="top:233px;line-height:13px;right:462.10px;text-align:right;transform:scaleX(0.942);transform-origin:100% 0;">60.9</div>
<div style="top:233px;line-height:13px;right:437.85px;text-align:right;transform:scaleX(0.942);transform-origin:100% 0;">3.6</div>
<div style="top:233px;line-height:13px;right:402.85px;text-align:right;transform:scaleX(0.942);transform-origin:100% 0;">60.2</div>
<div style="top:233px;line-height:13px;right:378.20px;text-align:right;transform:scaleX(0.942);transform-origin:100% 0;">2.9</div>
<div style="top:233px;line-height:13px;right:333.40px;text-align:right;transform:scaleX(0.942);transform-origin:100% 0;">16.1</div>
<div style="top:233px;line-height:13px;right:311.10px;text-align:right;transform:scaleX(0.942);transform-origin:100% 0;">2.5</div>
<div style="top:233px;line-height:13px;right:279.60px;text-align:right;transform:scaleX(0.942);transform-origin:100% 0;">17.2</div>
<div style="top:233px;line-height:13px;right:257.40px;text-align:right;transform:scaleX(0.942);transform-origin:100% 0;">2.7</div>
<div style="top:233px;line-height:13px;right:225.70px;text-align:right;transform:scaleX(0.942);transform-origin:100% 0;">16.7</div>
<div style="top:233px;line-height:13px;right:203.60px;text-align:right;transform:scaleX(0.942);transform-origin:100% 0;">2.0</div>
<div style="top:233px;line-height:13px;right:158.35px;text-align:right;transform:scaleX(0.942);transform-origin:100% 0;">25.8</div>
<div style="top:233px;line-height:13px;right:136.85px;text-align:right;transform:scaleX(0.942);transform-origin:100% 0;">3.0</div>
<div style="top:233px;line-height:13px;right:102.60px;text-align:right;transform:scaleX(0.942);transform-origin:100% 0;">22.5</div>
<div style="top:233px;line-height:13px;right:77.60px;text-align:right;transform:scaleX(0.942);transform-origin:100% 0;">3.2</div>
<div style="top:233px;line-height:13px;right:43.10px;text-align:right;transform:scaleX(0.942);transform-origin:100% 0;">24.1</div>
<div style="top:233px;line-height:13px;right:21.35px;text-align:right;transform:scaleX(0.942);transform-origin:100% 0;">2.5</div>
<div style="top:244px;line-height:13px;left:15.20px;transform:scaleX(0.921);transform-origin:0 0;">Nevada</div>
<div style="top:244px;line-height:13px;right:518.60px;text-align:right;transform:scaleX(0.942);transform-origin:100% 0;">59.6</div>
<div style="top:244px;line-height:13px;right:496.60px;text-align:right;transform:scaleX(0.942);transform-origin:100% 0;">4.2</div>
<div style="top:244px;line-height:13px;right:462.10px;text-align:right;transform:scaleX(0.942);transform-origin:100% 0;">55.2</div>
<div style="top:244px;line-height:13px;right:437.85px;text-align:right;transform:scaleX(0.942);transform-origin:100% 0;">5.9</div>
<div style="top:244px;line-height:13px;right:402.85px;text-align:right;transform:scaleX(0.942);transform-origin:100% 0;">57.3</div>
<div style="top:244px;line-height:13px;right:378.20px;text-align:right;transform:scaleX(0.942);transform-origin:100% 0;">4.5</div>
<div style="top:244px;line-height:13px;right:333.80px;text-align:right;transform:scaleX(0.88);transform-origin:100% 0;">—</div>
<div style="top:244px;line-height:13px;right:311.00px;text-align:right;transform:scaleX(0.88);transform-origin:100% 0;">—</div>
<div style="top:244px;line-height:13px;right:280.00px;text-align:right;transform:scaleX(0.88);transform-origin:100% 0;">—</div>
<div style="top:244px;line-height:13px;right:257.30px;text-align:right;transform:scaleX(0.88);transform-origin:100% 0;">—</div>
<div style="top:244px;line-height:13px;right:226.10px;text-align:right;transform:scaleX(0.88);transform-origin:100% 0;">—</div>
<div style="top:244px;line-height:13px;right:203.50px;text-align:right;transform:scaleX(0.88);transform-origin:100% 0;">—</div>
<div style="top:244px;line-height:13px;right:158.35px;text-align:right;transform:scaleX(0.942);transform-origin:100% 0;">21.4</div>
<div style="top:244px;line-height:13px;right:136.85px;text-align:right;transform:scaleX(0.942);transform-origin:100% 0;">2.9</div>
<div style="top:244px;line-height:13px;right:102.60px;text-align:right;transform:scaleX(0.942);transform-origin:100% 0;">18.0</div>
<div style="top:244px;line-height:13px;right:77.60px;text-align:right;transform:scaleX(0.942);transform-origin:100% 0;">3.2</div>
<div style="top:244px;line-height:13px;right:43.10px;text-align:right;transform:scaleX(0.942);transform-origin:100% 0;">19.6</div>
<div style="top:244px;line-height:13px;right:21.35px;text-align:right;transform:scaleX(0.942);transform-origin:100% 0;">2.4</div>
<div style="top:255px;line-height:13px;left:15.20px;transform:scaleX(0.921);transform-origin:0 0;">New Hampshire</div>
<div style="top:255px;line-height:13px;right:518.60px;text-align:right;transform:scaleX(0.942);transform-origin:100% 0;">52.0</div>
<div style="top:255px;line-height:13px;right:496.60px;text-align:right;transform:scaleX(0.942);transform-origin:100% 0;">5.6</div>
<div style="top:255px;line-height:13px;right:462.10px;text-align:right;transform:scaleX(0.942);transform-origin:100% 0;">51.0</div>
<div style="top:255px;line-height:13px;right:437.85px;text-align:right;transform:scaleX(0.942);transform-origin:100% 0;">6.4</div>
<div style="top:255px;line-height:13px;right:402.85px;text-align:right;transform:scaleX(0.942);transform-origin:100% 0;">51.5</div>
<div style="top:255px;line-height:13px;right:378.20px;text-align:right;transform:scaleX(0.942);transform-origin:100% 0;">5.4</div>
<div style="top:255px;line-height:13px;right:333.40px;text-align:right;transform:scaleX(0.942);transform-origin:100% 0;">14.3</div>
<div style="top:255px;line-height:13px;right:311.10px;text-align:right;transform:scaleX(0.942);transform-origin:100% 0;">3.1</div>
<div style="top:255px;line-height:13px;right:279.60px;text-align:right;transform:scaleX(0.942);transform-origin:100% 0;">14.3</div>
<div style="top:255px;line-height:13px;right:257.40px;text-align:right;transform:scaleX(0.942);transform-origin:100% 0;">3.7</div>
<div style="top:255px;line-height:13px;right:225.70px;text-align:right;transform:scaleX(0.942);transform-origin:100% 0;">14.3</div>
<div style="top:255px;line-height:13px;right:203.60px;text-align:right;transform:scaleX(0.942);transform-origin:100% 0;">2.4</div>
<div style="top:255px;line-height:13px;right:158.35px;text-align:right;transform:scaleX(0.942);transform-origin:100% 0;">19.8</div>
<div style="top:255px;line-height:13px;right:136.85px;text-align:right;transform:scaleX(0.942);transform-origin:100% 0;">3.9</div>
<div style="top:255px;line-height:13px;right:102.60px;text-align:right;transform:scaleX(0.942);transform-origin:100% 0;">18.2</div>
<div style="top:255px;line-height:13px;right:77.60px;text-align:right;transform:scaleX(0.942);transform-origin:100% 0;">4.4</div>
<div style="top:255px;line-height:13px;right:43.10px;text-align:right;transform:scaleX(0.942);transform-origin:100% 0;">19.1</div>
<div style="top:255px;line-height:13px;right:21.35px;text-align:right;transform:scaleX(0.942);transform-origin:100% 0;">3.2</div>
<div style="top:266px;line-height:13px;left:15.20px;transform:scaleX(0.921);transform-origin:0 0;">New York</div>
<div style="top:266px;line-height:13px;right:518.60px;text-align:right;transform:scaleX(0.942);transform-origin:100% 0;">51.3</div>
<div style="top:266px;line-height:13px;right:496.60px;text-align:right;transform:scaleX(0.942);transform-origin:100% 0;">3.3</div>
<div style="top:266px;line-height:13px;right:462.10px;text-align:right;transform:scaleX(0.942);transform-origin:100% 0;">51.0</div>
<div style="top:266px;line-height:13px;right:437.85px;text-align:right;transform:scaleX(0.942);transform-origin:100% 0;">3.1</div>
<div style="top:266px;line-height:13px;right:402.85px;text-align:right;transform:scaleX(0.942);transform-origin:100% 0;">51.2</div>
<div style="top:266px;line-height:13px;right:378.20px;text-align:right;transform:scaleX(0.942);transform-origin:100% 0;">2.6</div>
<div style="top:266px;line-height:13px;right:333.40px;text-align:right;transform:scaleX(0.942);transform-origin:100% 0;">13.2</div>
<div style="top:266px;line-height:13px;right:311.10px;text-align:right;transform:scaleX(0.942);transform-origin:100% 0;">2.4</div>
<div style="top:266px;line-height:13px;right:279.60px;text-align:right;transform:scaleX(0.942);transform-origin:100% 0;">13.2</div>
<div style="top:266px;line-height:13px;right:257.40px;text-align:right;transform:scaleX(0.942);transform-origin:100% 0;">2.3</div>
<div style="top:266px;line-height:13px;right:225.70px;text-align:right;transform:scaleX(0.942);transform-origin:100% 0;">13.2</div>
<div style="top:266px;line-height:13px;right:203.60px;text-align:right;transform:scaleX(0.942);transform-origin:100% 0;">1.9</div>
<div style="top:266px;line-height:13px;right:158.35px;text-align:right;transform:scaleX(0.942);transform-origin:100% 0;">20.7</div>
<div style="top:266px;line-height:13px;right:136.85px;text-align:right;transform:scaleX(0.942);transform-origin:100% 0;">3.0</div>
<div style="top:266px;line-height:13px;right:102.60px;text-align:right;transform:scaleX(0.942);transform-origin:100% 0;">19.5</div>
<div style="top:266px;line-height:13px;right:77.60px;text-align:right;transform:scaleX(0.942);transform-origin:100% 0;">3.1</div>
<div style="top:266px;line-height:13px;right:43.10px;text-align:right;transform:scaleX(0.942);transform-origin:100% 0;">20.2</div>
<div style="top:266px;line-height:13px;right:21.35px;text-align:right;transform:scaleX(0.942);transform-origin:100% 0;">2.3</div>
<div style="top:277px;line-height:13px;left:15.20px;transform:scaleX(0.921);transform-origin:0 0;">North Carolina</div>
<div style="top:277px;line-height:13px;right:519.00px;text-align:right;transform:scaleX(0.88);transform-origin:100% 0;">—</div>
<div style="top:277px;line-height:13px;right:496.50px;text-align:right;transform:scaleX(0.88);transform-origin:100% 0;">—</div>
<div style="top:277px;line-height:13px;right:462.50px;text-align:right;transform:scaleX(0.88);transform-origin:100% 0;">—</div>
<div style="top:277px;line-height:13px;right:437.75px;text-align:right;transform:scaleX(0.88);transform-origin:100% 0;">—</div>
<div style="top:277px;line-height:13px;right:403.25px;text-align:right;transform:scaleX(0.88);transform-origin:100% 0;">—</div>
<div style="top:277px;line-height:13px;right:378.10px;text-align:right;transform:scaleX(0.88);transform-origin:100% 0;">—</div>
<div style="top:277px;line-height:13px;right:333.80px;text-align:right;transform:scaleX(0.88);transform-origin:100% 0;">—</div>
<div style="top:277px;line-height:13px;right:311.00px;text-align:right;transform:scaleX(0.88);transform-origin:100% 0;">—</div>
<div style="top:277px;line-height:13px;right:280.00px;text-align:right;transform:scaleX(0.88);transform-origin:100% 0;">—</div>
<div style="top:277px;line-height:13px;right:257.30px;text-align:right;transform:scaleX(0.88);transform-origin:100% 0;">—</div>
<div style="top:277px;line-height:13px;right:226.10px;text-align:right;transform:scaleX(0.88);transform-origin:100% 0;">—</div>
<div style="top:277px;line-height:13px;right:203.50px;text-align:right;transform:scaleX(0.88);transform-origin:100% 0;">—</div>
<div style="top:277px;line-height:13px;right:158.35px;text-align:right;transform:scaleX(0.942);transform-origin:100% 0;">23.3</div>
<div style="top:277px;line-height:13px;right:136.85px;text-align:right;transform:scaleX(0.942);transform-origin:100% 0;">3.4</div>
<div style="top:277px;line-height:13px;right:102.60px;text-align:right;transform:scaleX(0.942);transform-origin:100% 0;">26.3</div>
<div style="top:277px;line-height:13px;right:77.60px;text-align:right;transform:scaleX(0.942);transform-origin:100% 0;">5.1</div>
<div style="top:277px;line-height:13px;right:43.10px;text-align:right;transform:scaleX(0.942);transform-origin:100% 0;">24.8</div>
<div style="top:277px;line-height:13px;right:21.35px;text-align:right;transform:scaleX(0.942);transform-origin:100% 0;">3.7</div>
<div style="top:288px;line-height:13px;left:15.20px;transform:scaleX(0.921);transform-origin:0 0;">North Dakota</div>
<div style="top:288px;line-height:13px;right:518.60px;text-align:right;transform:scaleX(0.942);transform-origin:100% 0;">62.7</div>
<div style="top:288px;line-height:13px;right:496.60px;text-align:right;transform:scaleX(0.942);transform-origin:100% 0;">5.0</div>
<div style="top:288px;line-height:13px;right:462.10px;text-align:right;transform:scaleX(0.942);transform-origin:100% 0;">60.2</div>
<div style="top:288px;line-height:13px;right:437.85px;text-align:right;transform:scaleX(0.942);transform-origin:100% 0;">4.5</div>
<div style="top:288px;line-height:13px;right:402.85px;text-align:right;transform:scaleX(0.942);transform-origin:100% 0;">61.5</div>
<div style="top:288px;line-height:13px;right:378.20px;text-align:right;transform:scaleX(0.942);transform-origin:100% 0;">3.8</div>
<div style="top:288px;line-height:13px;right:333.40px;text-align:right;transform:scaleX(0.942);transform-origin:100% 0;">21.9</div>
<div style="top:288px;line-height:13px;right:311.10px;text-align:right;transform:scaleX(0.942);transform-origin:100% 0;">4.5</div>
<div style="top:288px;line-height:13px;right:279.60px;text-align:right;transform:scaleX(0.942);transform-origin:100% 0;">20.3</div>
<div style="top:288px;line-height:13px;right:257.40px;text-align:right;transform:scaleX(0.942);transform-origin:100% 0;">3.7</div>
<div style="top:288px;line-height:13px;right:225.70px;text-align:right;transform:scaleX(0.942);transform-origin:100% 0;">21.1</div>
<div style="top:288px;line-height:13px;right:203.60px;text-align:right;transform:scaleX(0.942);transform-origin:100% 0;">3.2</div>
<div style="top:288px;line-height:13px;right:158.35px;text-align:right;transform:scaleX(0.942);transform-origin:100% 0;">31.0</div>
<div style="top:288px;line-height:13px;right:136.85px;text-align:right;transform:scaleX(0.942);transform-origin:100% 0;">4.8</div>
<div style="top:288px;line-height:13px;right:102.60px;text-align:right;transform:scaleX(0.942);transform-origin:100% 0;">29.3</div>
<div style="top:288px;line-height:13px;right:77.60px;text-align:right;transform:scaleX(0.942);transform-origin:100% 0;">3.9</div>
<div style="top:288px;line-height:13px;right:43.10px;text-align:right;transform:scaleX(0.942);transform-origin:100% 0;">30.2</div>
<div style="top:288px;line-height:13px;right:21.35px;text-align:right;transform:scaleX(0.942);transform-origin:100% 0;">3.2</div>
<div style="top:299px;line-height:13px;left:15.20px;transform:scaleX(0.921);transform-origin:0 0;">Ohio</div>
<div style="top:299px;line-height:13px;right:518.60px;text-align:right;transform:scaleX(0.942);transform-origin:100% 0;">54.3</div>
<div style="top:299px;line-height:13px;right:496.60px;text-align:right;transform:scaleX(0.942);transform-origin:100% 0;">7.7</div>
<div style="top:299px;line-height:13px;right:462.10px;text-align:right;transform:scaleX(0.942);transform-origin:100% 0;">56.1</div>
<div style="top:299px;line-height:13px;right:437.85px;text-align:right;transform:scaleX(0.942);transform-origin:100% 0;">7.4</div>
<div style="top:299px;line-height:13px;right:402.85px;text-align:right;transform:scaleX(0.942);transform-origin:100% 0;">55.3</div>
<div style="top:299px;line-height:13px;right:378.20px;text-align:right;transform:scaleX(0.942);transform-origin:100% 0;">6.3</div>
<div style="top:299px;line-height:13px;right:333.40px;text-align:right;transform:scaleX(0.942);transform-origin:100% 0;">15.0</div>
<div style="top:299px;line-height:13px;right:311.10px;text-align:right;transform:scaleX(0.942);transform-origin:100% 0;">4.3</div>
<div style="top:299px;line-height:13px;right:279.60px;text-align:right;transform:scaleX(0.942);transform-origin:100% 0;">14.0</div>
<div style="top:299px;line-height:13px;right:257.40px;text-align:right;transform:scaleX(0.942);transform-origin:100% 0;">4.5</div>
<div style="top:299px;line-height:13px;right:225.70px;text-align:right;transform:scaleX(0.942);transform-origin:100% 0;">14.6</div>
<div style="top:299px;line-height:13px;right:203.60px;text-align:right;transform:scaleX(0.942);transform-origin:100% 0;">3.7</div>
<div style="top:299px;line-height:13px;right:158.35px;text-align:right;transform:scaleX(0.942);transform-origin:100% 0;">23.5</div>
<div style="top:299px;line-height:13px;right:136.85px;text-align:right;transform:scaleX(0.942);transform-origin:100% 0;">5.1</div>
<div style="top:299px;line-height:13px;right:102.60px;text-align:right;transform:scaleX(0.942);transform-origin:100% 0;">20.8</div>
<div style="top:299px;line-height:13px;right:77.60px;text-align:right;transform:scaleX(0.942);transform-origin:100% 0;">4.4</div>
<div style="top:299px;line-height:13px;right:43.10px;text-align:right;transform:scaleX(0.942);transform-origin:100% 0;">22.2</div>
<div style="top:299px;line-height:13px;right:21.35px;text-align:right;transform:scaleX(0.942);transform-origin:100% 0;">4.0</div>
<div style="top:310px;line-height:13px;left:15.20px;transform:scaleX(0.921);transform-origin:0 0;">Oklahoma</div>
<div style="top:310px;line-height:13px;right:518.60px;text-align:right;transform:scaleX(0.942);transform-origin:100% 0;">61.3</div>
<div style="top:310px;line-height:13px;right:496.60px;text-align:right;transform:scaleX(0.942);transform-origin:100% 0;">6.5</div>
<div style="top:310px;line-height:13px;right:462.10px;text-align:right;transform:scaleX(0.942);transform-origin:100% 0;">66.8</div>
<div style="top:310px;line-height:13px;right:437.85px;text-align:right;transform:scaleX(0.942);transform-origin:100% 0;">5.7</div>
<div style="top:310px;line-height:13px;right:402.85px;text-align:right;transform:scaleX(0.942);transform-origin:100% 0;">64.1</div>
<div style="top:310px;line-height:13px;right:378.20px;text-align:right;transform:scaleX(0.942);transform-origin:100% 0;">5.4</div>
<div style="top:310px;line-height:13px;right:333.40px;text-align:right;transform:scaleX(0.942);transform-origin:100% 0;">17.4</div>
<div style="top:310px;line-height:13px;right:311.10px;text-align:right;transform:scaleX(0.942);transform-origin:100% 0;">4.1</div>
<div style="top:310px;line-height:13px;right:279.60px;text-align:right;transform:scaleX(0.942);transform-origin:100% 0;">17.9</div>
<div style="top:310px;line-height:13px;right:257.40px;text-align:right;transform:scaleX(0.942);transform-origin:100% 0;">5.4</div>
<div style="top:310px;line-height:13px;right:225.70px;text-align:right;transform:scaleX(0.942);transform-origin:100% 0;">17.5</div>
<div style="top:310px;line-height:13px;right:203.60px;text-align:right;transform:scaleX(0.942);transform-origin:100% 0;">4.3</div>
<div style="top:310px;line-height:13px;right:158.35px;text-align:right;transform:scaleX(0.942);transform-origin:100% 0;">24.3</div>
<div style="top:310px;line-height:13px;right:136.85px;text-align:right;transform:scaleX(0.942);transform-origin:100% 0;">4.5</div>
<div style="top:310px;line-height:13px;right:102.60px;text-align:right;transform:scaleX(0.942);transform-origin:100% 0;">28.6</div>
<div style="top:310px;line-height:13px;right:77.60px;text-align:right;transform:scaleX(0.942);transform-origin:100% 0;">4.1</div>
<div style="top:310px;line-height:13px;right:43.10px;text-align:right;transform:scaleX(0.942);transform-origin:100% 0;">26.5</div>
<div style="top:310px;line-height:13px;right:21.35px;text-align:right;transform:scaleX(0.942);transform-origin:100% 0;">3.9</div>
<div style="top:320px;line-height:13px;left:15.20px;transform:scaleX(0.921);transform-origin:0 0;">Rhode Island</div>
<div style="top:320px;line-height:13px;right:518.60px;text-align:right;transform:scaleX(0.942);transform-origin:100% 0;">52.7</div>
<div style="top:320px;line-height:13px;right:496.60px;text-align:right;transform:scaleX(0.942);transform-origin:100% 0;">3.0</div>
<div style="top:320px;line-height:13px;right:462.10px;text-align:right;transform:scaleX(0.942);transform-origin:100% 0;">46.6</div>
<div style="top:320px;line-height:13px;right:437.85px;text-align:right;transform:scaleX(0.942);transform-origin:100% 0;">4.4</div>
<div style="top:320px;line-height:13px;right:402.85px;text-align:right;transform:scaleX(0.942);transform-origin:100% 0;">49.7</div>
<div style="top:320px;line-height:13px;right:378.20px;text-align:right;transform:scaleX(0.942);transform-origin:100% 0;">2.9</div>
<div style="top:320px;line-height:13px;right:333.40px;text-align:right;transform:scaleX(0.942);transform-origin:100% 0;">15.1</div>
<div style="top:320px;line-height:13px;right:311.10px;text-align:right;transform:scaleX(0.942);transform-origin:100% 0;">3.0</div>
<div style="top:320px;line-height:13px;right:279.60px;text-align:right;transform:scaleX(0.942);transform-origin:100% 0;">13.4</div>
<div style="top:320px;line-height:13px;right:257.40px;text-align:right;transform:scaleX(0.942);transform-origin:100% 0;">2.6</div>
<div style="top:320px;line-height:13px;right:225.70px;text-align:right;transform:scaleX(0.942);transform-origin:100% 0;">14.3</div>
<div style="top:320px;line-height:13px;right:203.60px;text-align:right;transform:scaleX(0.942);transform-origin:100% 0;">2.3</div>
<div style="top:320px;line-height:13px;right:158.35px;text-align:right;transform:scaleX(0.942);transform-origin:100% 0;">21.8</div>
<div style="top:320px;line-height:13px;right:136.85px;text-align:right;transform:scaleX(0.942);transform-origin:100% 0;">3.5</div>
<div style="top:320px;line-height:13px;right:102.60px;text-align:right;transform:scaleX(0.942);transform-origin:100% 0;">16.9</div>
<div style="top:320px;line-height:13px;right:77.60px;text-align:right;transform:scaleX(0.942);transform-origin:100% 0;">3.4</div>
<div style="top:320px;line-height:13px;right:43.10px;text-align:right;transform:scaleX(0.942);transform-origin:100% 0;">19.3</div>
<div style="top:320px;line-height:13px;right:21.35px;text-align:right;transform:scaleX(0.942);transform-origin:100% 0;">3.1</div>
<div style="top:331px;line-height:13px;left:15.20px;transform:scaleX(0.921);transform-origin:0 0;">South Dakota</div>
<div style="top:331px;line-height:13px;right:518.60px;text-align:right;transform:scaleX(0.942);transform-origin:100% 0;">59.7</div>
<div style="top:331px;line-height:13px;right:496.60px;text-align:right;transform:scaleX(0.942);transform-origin:100% 0;">8.2</div>
<div style="top:331px;line-height:13px;right:462.10px;text-align:right;transform:scaleX(0.942);transform-origin:100% 0;">60.2</div>
<div style="top:331px;line-height:13px;right:437.85px;text-align:right;transform:scaleX(0.942);transform-origin:100% 0;">7.7</div>
<div style="top:331px;line-height:13px;right:402.85px;text-align:right;transform:scaleX(0.942);transform-origin:100% 0;">59.9</div>
<div style="top:331px;line-height:13px;right:378.20px;text-align:right;transform:scaleX(0.942);transform-origin:100% 0;">7.4</div>
<div style="top:331px;line-height:13px;right:333.40px;text-align:right;transform:scaleX(0.942);transform-origin:100% 0;">18.1</div>
<div style="top:331px;line-height:13px;right:311.10px;text-align:right;transform:scaleX(0.942);transform-origin:100% 0;">5.4</div>
<div style="top:331px;line-height:13px;right:279.60px;text-align:right;transform:scaleX(0.942);transform-origin:100% 0;">22.0</div>
<div style="top:331px;line-height:13px;right:257.40px;text-align:right;transform:scaleX(0.942);transform-origin:100% 0;">4.2</div>
<div style="top:331px;line-height:13px;right:225.70px;text-align:right;transform:scaleX(0.942);transform-origin:100% 0;">20.0</div>
<div style="top:331px;line-height:13px;right:203.60px;text-align:right;transform:scaleX(0.942);transform-origin:100% 0;">4.1</div>
<div style="top:331px;line-height:13px;right:158.35px;text-align:right;transform:scaleX(0.942);transform-origin:100% 0;">29.3</div>
<div style="top:331px;line-height:13px;right:136.85px;text-align:right;transform:scaleX(0.942);transform-origin:100% 0;">9.2</div>
<div style="top:331px;line-height:13px;right:102.60px;text-align:right;transform:scaleX(0.942);transform-origin:100% 0;">30.6</div>
<div style="top:331px;line-height:13px;right:77.60px;text-align:right;transform:scaleX(0.942);transform-origin:100% 0;">5.0</div>
<div style="top:331px;line-height:13px;right:43.10px;text-align:right;transform:scaleX(0.942);transform-origin:100% 0;">30.0</div>
<div style="top:331px;line-height:13px;right:21.35px;text-align:right;transform:scaleX(0.942);transform-origin:100% 0;">6.2</div>
<div style="top:342px;line-height:13px;left:15.20px;transform:scaleX(0.921);transform-origin:0 0;">Tennessee</div>
<div style="top:342px;line-height:13px;right:518.60px;text-align:right;transform:scaleX(0.942);transform-origin:100% 0;">58.2</div>
<div style="top:342px;line-height:13px;right:496.60px;text-align:right;transform:scaleX(0.942);transform-origin:100% 0;">4.1</div>
<div style="top:342px;line-height:13px;right:462.10px;text-align:right;transform:scaleX(0.942);transform-origin:100% 0;">65.1</div>
<div style="top:342px;line-height:13px;right:437.85px;text-align:right;transform:scaleX(0.942);transform-origin:100% 0;">6.4</div>
<div style="top:342px;line-height:13px;right:402.85px;text-align:right;transform:scaleX(0.942);transform-origin:100% 0;">61.8</div>
<div style="top:342px;line-height:13px;right:378.20px;text-align:right;transform:scaleX(0.942);transform-origin:100% 0;">4.9</div>
<div style="top:342px;line-height:13px;right:333.40px;text-align:right;transform:scaleX(0.942);transform-origin:100% 0;">18.8</div>
<div style="top:342px;line-height:13px;right:311.10px;text-align:right;transform:scaleX(0.942);transform-origin:100% 0;">4.7</div>
<div style="top:342px;line-height:13px;right:279.60px;text-align:right;transform:scaleX(0.942);transform-origin:100% 0;">20.5</div>
<div style="top:342px;line-height:13px;right:257.40px;text-align:right;transform:scaleX(0.942);transform-origin:100% 0;">4.7</div>
<div style="top:342px;line-height:13px;right:225.70px;text-align:right;transform:scaleX(0.942);transform-origin:100% 0;">19.6</div>
<div style="top:342px;line-height:13px;right:203.60px;text-align:right;transform:scaleX(0.942);transform-origin:100% 0;">4.2</div>
<div style="top:342px;line-height:13px;right:158.35px;text-align:right;transform:scaleX(0.942);transform-origin:100% 0;">27.0</div>
<div style="top:342px;line-height:13px;right:136.85px;text-align:right;transform:scaleX(0.942);transform-origin:100% 0;">4.7</div>
<div style="top:342px;line-height:13px;right:102.60px;text-align:right;transform:scaleX(0.942);transform-origin:100% 0;">28.4</div>
<div style="top:342px;line-height:13px;right:77.60px;text-align:right;transform:scaleX(0.942);transform-origin:100% 0;">5.3</div>
<div style="top:342px;line-height:13px;right:43.10px;text-align:right;transform:scaleX(0.942);transform-origin:100% 0;">27.6</div>
<div style="top:342px;line-height:13px;right:21.35px;text-align:right;transform:scaleX(0.942);transform-origin:100% 0;">4.6</div>
<div style="top:353px;line-height:13px;left:15.20px;transform:scaleX(0.921);transform-origin:0 0;">Texas<sup>††</sup></div>
<div style="top:353px;line-height:13px;right:518.60px;text-align:right;transform:scaleX(0.942);transform-origin:100% 0;">56.5</div>
<div style="top:353px;line-height:13px;right:496.60px;text-align:right;transform:scaleX(0.942);transform-origin:100% 0;">4.4</div>
<div style="top:353px;line-height:13px;right:462.10px;text-align:right;transform:scaleX(0.942);transform-origin:100% 0;">61.9</div>
<div style="top:353px;line-height:13px;right:437.85px;text-align:right;transform:scaleX(0.942);transform-origin:100% 0;">2.5</div>
<div style="top:353px;line-height:13px;right:402.85px;text-align:right;transform:scaleX(0.942);transform-origin:100% 0;">59.4</div>
<div style="top:353px;line-height:13px;right:378.20px;text-align:right;transform:scaleX(0.942);transform-origin:100% 0;">2.6</div>
<div style="top:353px;line-height:13px;right:333.40px;text-align:right;transform:scaleX(0.942);transform-origin:100% 0;">12.1</div>
<div style="top:353px;line-height:13px;right:311.10px;text-align:right;transform:scaleX(0.942);transform-origin:100% 0;">2.1</div>
<div style="top:353px;line-height:13px;right:279.60px;text-align:right;transform:scaleX(0.942);transform-origin:100% 0;">12.8</div>
<div style="top:353px;line-height:13px;right:257.40px;text-align:right;transform:scaleX(0.942);transform-origin:100% 0;">2.7</div>
<div style="top:353px;line-height:13px;right:225.70px;text-align:right;transform:scaleX(0.942);transform-origin:100% 0;">12.6</div>
<div style="top:353px;line-height:13px;right:203.60px;text-align:right;transform:scaleX(0.942);transform-origin:100% 0;">1.7</div>
<div style="top:353px;line-height:13px;right:158.35px;text-align:right;transform:scaleX(0.942);transform-origin:100% 0;">23.3</div>
<div style="top:353px;line-height:13px;right:136.85px;text-align:right;transform:scaleX(0.942);transform-origin:100% 0;">2.3</div>
<div style="top:353px;line-height:13px;right:102.60px;text-align:right;transform:scaleX(0.942);transform-origin:100% 0;">24.8</div>
<div style="top:353px;line-height:13px;right:77.60px;text-align:right;transform:scaleX(0.942);transform-origin:100% 0;">3.3</div>
<div style="top:353px;line-height:13px;right:43.10px;text-align:right;transform:scaleX(0.942);transform-origin:100% 0;">24.3</div>
<div style="top:353px;line-height:13px;right:21.35px;text-align:right;transform:scaleX(0.942);transform-origin:100% 0;">1.8</div>
<div style="top:364px;line-height:13px;left:15.20px;transform:scaleX(0.921);transform-origin:0 0;">Utah</div>
<div style="top:364px;line-height:13px;right:518.60px;text-align:right;transform:scaleX(0.942);transform-origin:100% 0;">31.3</div>
<div style="top:364px;line-height:13px;right:496.60px;text-align:right;transform:scaleX(0.942);transform-origin:100% 0;">5.2</div>
<div style="top:364px;line-height:13px;right:462.10px;text-align:right;transform:scaleX(0.942);transform-origin:100% 0;">34.2</div>
<div style="top:364px;line-height:13px;right:437.85px;text-align:right;transform:scaleX(0.942);transform-origin:100% 0;">8.3</div>
<div style="top:364px;line-height:13px;right:402.85px;text-align:right;transform:scaleX(0.942);transform-origin:100% 0;">32.8</div>
<div style="top:364px;line-height:13px;right:378.20px;text-align:right;transform:scaleX(0.942);transform-origin:100% 0;">5.5</div>
<div style="top:364px;line-height:13px;right:333.40px;text-align:right;transform:scaleX(0.942);transform-origin:100% 0;">5.0</div>
<div style="top:364px;line-height:13px;right:311.10px;text-align:right;transform:scaleX(0.942);transform-origin:100% 0;">2.7</div>
<div style="top:364px;line-height:13px;right:279.60px;text-align:right;transform:scaleX(0.942);transform-origin:100% 0;">6.9</div>
<div style="top:364px;line-height:13px;right:257.40px;text-align:right;transform:scaleX(0.942);transform-origin:100% 0;">3.5</div>
<div style="top:364px;line-height:13px;right:225.70px;text-align:right;transform:scaleX(0.942);transform-origin:100% 0;">6.0</div>
<div style="top:364px;line-height:13px;right:203.60px;text-align:right;transform:scaleX(0.942);transform-origin:100% 0;">2.3</div>
<div style="top:364px;line-height:13px;right:158.35px;text-align:right;transform:scaleX(0.942);transform-origin:100% 0;">7.3</div>
<div style="top:364px;line-height:13px;right:136.85px;text-align:right;transform:scaleX(0.942);transform-origin:100% 0;">3.3</div>
<div style="top:364px;line-height:13px;right:102.60px;text-align:right;transform:scaleX(0.942);transform-origin:100% 0;">7.2</div>
<div style="top:364px;line-height:13px;right:77.60px;text-align:right;transform:scaleX(0.942);transform-origin:100% 0;">3.9</div>
<div style="top:364px;line-height:13px;right:43.10px;text-align:right;transform:scaleX(0.942);transform-origin:100% 0;">7.3</div>
<div style="top:364px;line-height:13px;right:21.35px;text-align:right;transform:scaleX(0.942);transform-origin:100% 0;">2.6</div>
<div style="top:375px;line-height:13px;left:15.20px;transform:scaleX(0.921);transform-origin:0 0;">Vermont</div>
<div style="top:375px;line-height:13px;right:519.00px;text-align:right;transform:scaleX(0.88);transform-origin:100% 0;">—</div>
<div style="top:375px;line-height:13px;right:496.50px;text-align:right;transform:scaleX(0.88);transform-origin:100% 0;">—</div>
<div style="top:375px;line-height:13px;right:462.50px;text-align:right;transform:scaleX(0.88);transform-origin:100% 0;">—</div>
<div style="top:375px;line-height:13px;right:437.75px;text-align:right;transform:scaleX(0.88);transform-origin:100% 0;">—</div>
<div style="top:375px;line-height:13px;right:403.25px;text-align:right;transform:scaleX(0.88);transform-origin:100% 0;">—</div>
<div style="top:375px;line-height:13px;right:378.10px;text-align:right;transform:scaleX(0.88);transform-origin:100% 0;">—</div>
<div style="top:375px;line-height:13px;right:333.80px;text-align:right;transform:scaleX(0.88);transform-origin:100% 0;">—</div>
<div style="top:375px;line-height:13px;right:311.00px;text-align:right;transform:scaleX(0.88);transform-origin:100% 0;">—</div>
<div style="top:375px;line-height:13px;right:280.00px;text-align:right;transform:scaleX(0.88);transform-origin:100% 0;">—</div>
<div style="top:375px;line-height:13px;right:257.30px;text-align:right;transform:scaleX(0.88);transform-origin:100% 0;">—</div>
<div style="top:375px;line-height:13px;right:226.10px;text-align:right;transform:scaleX(0.88);transform-origin:100% 0;">—</div>
<div style="top:375px;line-height:13px;right:203.50px;text-align:right;transform:scaleX(0.88);transform-origin:100% 0;">—</div>
<div style="top:375px;line-height:13px;right:158.35px;text-align:right;transform:scaleX(0.942);transform-origin:100% 0;">23.8</div>
<div style="top:375px;line-height:13px;right:136.85px;text-align:right;transform:scaleX(0.942);transform-origin:100% 0;">2.5</div>
<div style="top:375px;line-height:13px;right:102.60px;text-align:right;transform:scaleX(0.942);transform-origin:100% 0;">20.4</div>
<div style="top:375px;line-height:13px;right:77.60px;text-align:right;transform:scaleX(0.942);transform-origin:100% 0;">2.7</div>
<div style="top:375px;line-height:13px;right:43.10px;text-align:right;transform:scaleX(0.942);transform-origin:100% 0;">22.1</div>
<div style="top:375px;line-height:13px;right:21.35px;text-align:right;transform:scaleX(0.942);transform-origin:100% 0;">1.8</div>
<div style="top:386px;line-height:13px;left:15.20px;transform:scaleX(0.921);transform-origin:0 0;">West Virginia</div>
<div style="top:386px;line-height:13px;right:518.60px;text-align:right;transform:scaleX(0.942);transform-origin:100% 0;">63.1</div>
<div style="top:386px;line-height:13px;right:496.60px;text-align:right;transform:scaleX(0.942);transform-origin:100% 0;">6.8</div>
<div style="top:386px;line-height:13px;right:462.10px;text-align:right;transform:scaleX(0.942);transform-origin:100% 0;">62.6</div>
<div style="top:386px;line-height:13px;right:437.85px;text-align:right;transform:scaleX(0.942);transform-origin:100% 0;">6.8</div>
<div style="top:386px;line-height:13px;right:402.85px;text-align:right;transform:scaleX(0.942);transform-origin:100% 0;">62.8</div>
<div style="top:386px;line-height:13px;right:378.20px;text-align:right;transform:scaleX(0.942);transform-origin:100% 0;">6.0</div>
<div style="top:386px;line-height:13px;right:333.40px;text-align:right;transform:scaleX(0.942);transform-origin:100% 0;">23.0</div>
<div style="top:386px;line-height:13px;right:311.10px;text-align:right;transform:scaleX(0.942);transform-origin:100% 0;">7.1</div>
<div style="top:386px;line-height:13px;right:279.60px;text-align:right;transform:scaleX(0.942);transform-origin:100% 0;">18.7</div>
<div style="top:386px;line-height:13px;right:257.40px;text-align:right;transform:scaleX(0.942);transform-origin:100% 0;">5.1</div>
<div style="top:386px;line-height:13px;right:225.70px;text-align:right;transform:scaleX(0.942);transform-origin:100% 0;">20.8</div>
<div style="top:386px;line-height:13px;right:203.60px;text-align:right;transform:scaleX(0.942);transform-origin:100% 0;">4.8</div>
<div style="top:386px;line-height:13px;right:158.35px;text-align:right;transform:scaleX(0.942);transform-origin:100% 0;">31.4</div>
<div style="top:386px;line-height:13px;right:136.85px;text-align:right;transform:scaleX(0.942);transform-origin:100% 0;">7.8</div>
<div style="top:386px;line-height:13px;right:102.60px;text-align:right;transform:scaleX(0.942);transform-origin:100% 0;">25.6</div>
<div style="top:386px;line-height:13px;right:77.60px;text-align:right;transform:scaleX(0.942);transform-origin:100% 0;">5.0</div>
<div style="top:386px;line-height:13px;right:43.10px;text-align:right;transform:scaleX(0.942);transform-origin:100% 0;">28.5</div>
<div style="top:386px;line-height:13px;right:21.35px;text-align:right;transform:scaleX(0.942);transform-origin:100% 0;">4.9</div>
<div style="top:397px;line-height:13px;left:15.20px;transform:scaleX(0.921);transform-origin:0 0;">Wisconsin</div>
<div style="top:397px;line-height:13px;right:518.60px;text-align:right;transform:scaleX(0.942);transform-origin:100% 0;">52.8</div>
<div style="top:397px;line-height:13px;right:496.60px;text-align:right;transform:scaleX(0.942);transform-origin:100% 0;">3.9</div>
<div style="top:397px;line-height:13px;right:462.10px;text-align:right;transform:scaleX(0.942);transform-origin:100% 0;">55.2</div>
<div style="top:397px;line-height:13px;right:437.85px;text-align:right;transform:scaleX(0.942);transform-origin:100% 0;">4.2</div>
<div style="top:397px;line-height:13px;right:402.85px;text-align:right;transform:scaleX(0.942);transform-origin:100% 0;">54.1</div>
<div style="top:397px;line-height:13px;right:378.20px;text-align:right;transform:scaleX(0.942);transform-origin:100% 0;">3.2</div>
<div style="top:397px;line-height:13px;right:333.40px;text-align:right;transform:scaleX(0.942);transform-origin:100% 0;">20.2</div>
<div style="top:397px;line-height:13px;right:311.10px;text-align:right;transform:scaleX(0.942);transform-origin:100% 0;">3.9</div>
<div style="top:397px;line-height:13px;right:279.60px;text-align:right;transform:scaleX(0.942);transform-origin:100% 0;">18.2</div>
<div style="top:397px;line-height:13px;right:257.40px;text-align:right;transform:scaleX(0.942);transform-origin:100% 0;">2.7</div>
<div style="top:397px;line-height:13px;right:225.70px;text-align:right;transform:scaleX(0.942);transform-origin:100% 0;">19.2</div>
<div style="top:397px;line-height:13px;right:203.60px;text-align:right;transform:scaleX(0.942);transform-origin:100% 0;">2.8</div>
<div style="top:397px;line-height:13px;right:158.35px;text-align:right;transform:scaleX(0.942);transform-origin:100% 0;">24.2</div>
<div style="top:397px;line-height:13px;right:136.85px;text-align:right;transform:scaleX(0.942);transform-origin:100% 0;">2.9</div>
<div style="top:397px;line-height:13px;right:102.60px;text-align:right;transform:scaleX(0.942);transform-origin:100% 0;">22.9</div>
<div style="top:397px;line-height:13px;right:77.60px;text-align:right;transform:scaleX(0.942);transform-origin:100% 0;">3.5</div>
<div style="top:397px;line-height:13px;right:43.10px;text-align:right;transform:scaleX(0.942);transform-origin:100% 0;">23.6</div>
<div style="top:397px;line-height:13px;right:21.35px;text-align:right;transform:scaleX(0.942);transform-origin:100% 0;">2.6</div>
<div style="top:407px;line-height:13px;left:15.20px;transform:scaleX(0.921);transform-origin:0 0;">Wyoming</div>
<div style="top:407px;line-height:13px;right:518.60px;text-align:right;transform:scaleX(0.942);transform-origin:100% 0;">56.5</div>
<div style="top:407px;line-height:13px;right:496.60px;text-align:right;transform:scaleX(0.942);transform-origin:100% 0;">4.5</div>
<div style="top:407px;line-height:13px;right:462.10px;text-align:right;transform:scaleX(0.942);transform-origin:100% 0;">55.8</div>
<div style="top:407px;line-height:13px;right:437.85px;text-align:right;transform:scaleX(0.942);transform-origin:100% 0;">4.5</div>
<div style="top:407px;line-height:13px;right:402.85px;text-align:right;transform:scaleX(0.942);transform-origin:100% 0;">56.1</div>
<div style="top:407px;line-height:13px;right:378.20px;text-align:right;transform:scaleX(0.942);transform-origin:100% 0;">3.7</div>
<div style="top:407px;line-height:13px;right:333.40px;text-align:right;transform:scaleX(0.942);transform-origin:100% 0;">20.6</div>
<div style="top:407px;line-height:13px;right:311.10px;text-align:right;transform:scaleX(0.942);transform-origin:100% 0;">4.4</div>
<div style="top:407px;line-height:13px;right:279.60px;text-align:right;transform:scaleX(0.942);transform-origin:100% 0;">17.4</div>
<div style="top:407px;line-height:13px;right:257.40px;text-align:right;transform:scaleX(0.942);transform-origin:100% 0;">3.5</div>
<div style="top:407px;line-height:13px;right:225.70px;text-align:right;transform:scaleX(0.942);transform-origin:100% 0;">18.9</div>
<div style="top:407px;line-height:13px;right:203.60px;text-align:right;transform:scaleX(0.942);transform-origin:100% 0;">3.3</div>
<div style="top:407px;line-height:13px;right:158.35px;text-align:right;transform:scaleX(0.942);transform-origin:100% 0;">26.4</div>
<div style="top:407px;line-height:13px;right:136.85px;text-align:right;transform:scaleX(0.942);transform-origin:100% 0;">4.7</div>
<div style="top:407px;line-height:13px;right:102.60px;text-align:right;transform:scaleX(0.942);transform-origin:100% 0;">25.8</div>
<div style="top:407px;line-height:13px;right:77.60px;text-align:right;transform:scaleX(0.942);transform-origin:100% 0;">4.2</div>
<div style="top:407px;line-height:13px;right:43.10px;text-align:right;transform:scaleX(0.942);transform-origin:100% 0;">26.0</div>
<div style="top:407px;line-height:13px;right:21.35px;text-align:right;transform:scaleX(0.942);transform-origin:100% 0;">3.8</div>
<div style="top:421px;line-height:13px;left:7.20px;transform:scaleX(0.99);transform-origin:0 0;">Median</div>
<div style="top:433px;line-height:13px;left:7.20px;transform:scaleX(0.921);transform-origin:0 0;">Range</div>
<div style="top:421px;line-height:13px;right:518.60px;text-align:right;transform:scaleX(0.942);transform-origin:100% 0;">58.2</div>
<div style="top:433px;line-height:13px;left:148.50px;transform:scaleX(0.905);transform-origin:0 0;">31.3–72.4</div>
<div style="top:421px;line-height:13px;right:462.10px;text-align:right;transform:scaleX(0.942);transform-origin:100% 0;">60.5</div>
<div style="top:433px;line-height:13px;left:202.90px;transform:scaleX(0.905);transform-origin:0 0;">34.2–69.6</div>
<div style="top:421px;line-height:13px;right:402.85px;text-align:right;transform:scaleX(0.942);transform-origin:100% 0;">59.9</div>
<div style="top:433px;line-height:13px;left:263.40px;transform:scaleX(0.905);transform-origin:0 0;">32.8–71.1</div>
<div style="top:421px;line-height:13px;right:333.40px;text-align:right;transform:scaleX(0.942);transform-origin:100% 0;">16.3</div>
<div style="top:433px;line-height:13px;left:336.65px;transform:scaleX(0.905);transform-origin:0 0;">5.0–25.4</div>
<div style="top:421px;line-height:13px;right:279.60px;text-align:right;transform:scaleX(0.942);transform-origin:100% 0;">16.9</div>
<div style="top:433px;line-height:13px;left:390.40px;transform:scaleX(0.905);transform-origin:0 0;">6.9–26.3</div>
<div style="top:421px;line-height:13px;right:225.70px;text-align:right;transform:scaleX(0.942);transform-origin:100% 0;">17.0</div>
<div style="top:433px;line-height:13px;left:443.65px;transform:scaleX(0.905);transform-origin:0 0;">6.0–26.0</div>
<div style="top:421px;line-height:13px;right:158.35px;text-align:right;transform:scaleX(0.942);transform-origin:100% 0;">23.6</div>
<div style="top:433px;line-height:13px;left:510.90px;transform:scaleX(0.905);transform-origin:0 0;">7.3–33.4</div>
<div style="top:421px;line-height:13px;right:102.60px;text-align:right;transform:scaleX(0.942);transform-origin:100% 0;">22.1</div>
<div style="top:433px;line-height:13px;left:566.90px;transform:scaleX(0.905);transform-origin:0 0;">7.2–31.8</div>
<div style="top:421px;line-height:13px;right:43.10px;text-align:right;transform:scaleX(0.942);transform-origin:100% 0;">23.2</div>
<div style="top:433px;line-height:13px;left:623.90px;transform:scaleX(0.905);transform-origin:0 0;">7.3–32.7</div>
<div style="top:445px;line-height:13px;left:7.20px;transform:scaleX(0.972);transform-origin:0 0;">Local Surveys<sup class="b">§§</sup></div>
<div style="top:456px;line-height:13px;left:15.20px;transform:scaleX(0.921);transform-origin:0 0;">Boston PS, MA</div>
<div style="top:456px;line-height:13px;right:518.60px;text-align:right;transform:scaleX(0.942);transform-origin:100% 0;">57.2</div>
<div style="top:456px;line-height:13px;right:496.60px;text-align:right;transform:scaleX(0.942);transform-origin:100% 0;">4.6</div>
<div style="top:456px;line-height:13px;right:462.10px;text-align:right;transform:scaleX(0.942);transform-origin:100% 0;">48.1</div>
<div style="top:456px;line-height:13px;right:437.85px;text-align:right;transform:scaleX(0.942);transform-origin:100% 0;">4.1</div>
<div style="top:456px;line-height:13px;right:402.85px;text-align:right;transform:scaleX(0.942);transform-origin:100% 0;">52.7</div>
<div style="top:456px;line-height:13px;right:378.20px;text-align:right;transform:scaleX(0.942);transform-origin:100% 0;">3.4</div>
<div style="top:456px;line-height:13px;right:333.40px;text-align:right;transform:scaleX(0.942);transform-origin:100% 0;">8.3</div>
<div style="top:456px;line-height:13px;right:311.10px;text-align:right;transform:scaleX(0.942);transform-origin:100% 0;">2.5</div>
<div style="top:456px;line-height:13px;right:279.60px;text-align:right;transform:scaleX(0.942);transform-origin:100% 0;">7.5</div>
<div style="top:456px;line-height:13px;right:257.40px;text-align:right;transform:scaleX(0.942);transform-origin:100% 0;">2.7</div>
<div style="top:456px;line-height:13px;right:225.70px;text-align:right;transform:scaleX(0.942);transform-origin:100% 0;">7.9</div>
<div style="top:456px;line-height:13px;right:203.60px;text-align:right;transform:scaleX(0.942);transform-origin:100% 0;">2.0</div>
<div style="top:456px;line-height:13px;right:158.35px;text-align:right;transform:scaleX(0.942);transform-origin:100% 0;">14.4</div>
<div style="top:456px;line-height:13px;right:136.85px;text-align:right;transform:scaleX(0.942);transform-origin:100% 0;">3.0</div>
<div style="top:456px;line-height:13px;right:102.60px;text-align:right;transform:scaleX(0.942);transform-origin:100% 0;">11.6</div>
<div style="top:456px;line-height:13px;right:77.60px;text-align:right;transform:scaleX(0.942);transform-origin:100% 0;">3.1</div>
<div style="top:456px;line-height:13px;right:43.10px;text-align:right;transform:scaleX(0.942);transform-origin:100% 0;">13.1</div>
<div style="top:456px;line-height:13px;right:21.35px;text-align:right;transform:scaleX(0.942);transform-origin:100% 0;">2.0</div>
<div style="top:467px;line-height:13px;left:15.20px;transform:scaleX(0.921);transform-origin:0 0;">Broward County PS, FL</div>
<div style="top:467px;line-height:13px;right:518.60px;text-align:right;transform:scaleX(0.942);transform-origin:100% 0;">47.8</div>
<div style="top:467px;line-height:13px;right:496.60px;text-align:right;transform:scaleX(0.942);transform-origin:100% 0;">3.6</div>
<div style="top:467px;line-height:13px;right:462.10px;text-align:right;transform:scaleX(0.942);transform-origin:100% 0;">48.9</div>
<div style="top:467px;line-height:13px;right:437.85px;text-align:right;transform:scaleX(0.942);transform-origin:100% 0;">3.8</div>
<div style="top:467px;line-height:13px;right:402.85px;text-align:right;transform:scaleX(0.942);transform-origin:100% 0;">48.2</div>
<div style="top:467px;line-height:13px;right:378.20px;text-align:right;transform:scaleX(0.942);transform-origin:100% 0;">2.7</div>
<div style="top:467px;line-height:13px;right:333.40px;text-align:right;transform:scaleX(0.942);transform-origin:100% 0;">10.3</div>
<div style="top:467px;line-height:13px;right:311.10px;text-align:right;transform:scaleX(0.942);transform-origin:100% 0;">2.1</div>
<div style="top:467px;line-height:13px;right:279.60px;text-align:right;transform:scaleX(0.942);transform-origin:100% 0;">9.3</div>
<div style="top:467px;line-height:13px;right:257.40px;text-align:right;transform:scaleX(0.942);transform-origin:100% 0;">2.1</div>
<div style="top:467px;line-height:13px;right:225.70px;text-align:right;transform:scaleX(0.942);transform-origin:100% 0;">9.8</div>
<div style="top:467px;line-height:13px;right:203.60px;text-align:right;transform:scaleX(0.942);transform-origin:100% 0;">1.6</div>
<div style="top:467px;line-height:13px;right:158.35px;text-align:right;transform:scaleX(0.942);transform-origin:100% 0;">14.1</div>
<div style="top:467px;line-height:13px;right:136.85px;text-align:right;transform:scaleX(0.942);transform-origin:100% 0;">2.4</div>
<div style="top:467px;line-height:13px;right:102.60px;text-align:right;transform:scaleX(0.942);transform-origin:100% 0;">12.6</div>
<div style="top:467px;line-height:13px;right:77.60px;text-align:right;transform:scaleX(0.942);transform-origin:100% 0;">2.5</div>
<div style="top:467px;line-height:13px;right:43.10px;text-align:right;transform:scaleX(0.942);transform-origin:100% 0;">13.4</div>
<div style="top:467px;line-height:13px;right:21.35px;text-align:right;transform:scaleX(0.942);transform-origin:100% 0;">2.0</div>
<div style="top:478px;line-height:13px;left:15.20px;transform:scaleX(0.921);transform-origin:0 0;">Chicago PS, IL</div>
<div style="top:478px;line-height:13px;right:518.60px;text-align:right;transform:scaleX(0.942);transform-origin:100% 0;">60.7</div>
<div style="top:478px;line-height:13px;right:496.60px;text-align:right;transform:scaleX(0.942);transform-origin:100% 0;">6.5</div>
<div style="top:478px;line-height:13px;right:462.10px;text-align:right;transform:scaleX(0.942);transform-origin:100% 0;">62.5</div>
<div style="top:478px;line-height:13px;right:437.85px;text-align:right;transform:scaleX(0.942);transform-origin:100% 0;">8.4</div>
<div style="top:478px;line-height:13px;right:402.85px;text-align:right;transform:scaleX(0.942);transform-origin:100% 0;">61.6</div>
<div style="top:478px;line-height:13px;right:378.20px;text-align:right;transform:scaleX(0.942);transform-origin:100% 0;">6.4</div>
<div style="top:478px;line-height:13px;right:333.40px;text-align:right;transform:scaleX(0.942);transform-origin:100% 0;">9.2</div>
<div style="top:478px;line-height:13px;right:311.10px;text-align:right;transform:scaleX(0.942);transform-origin:100% 0;">3.3</div>
<div style="top:478px;line-height:13px;right:279.60px;text-align:right;transform:scaleX(0.942);transform-origin:100% 0;">10.9</div>
<div style="top:478px;line-height:13px;right:257.40px;text-align:right;transform:scaleX(0.942);transform-origin:100% 0;">6.4</div>
<div style="top:478px;line-height:13px;right:225.70px;text-align:right;transform:scaleX(0.942);transform-origin:100% 0;">10.0</div>
<div style="top:478px;line-height:13px;right:203.60px;text-align:right;transform:scaleX(0.942);transform-origin:100% 0;">4.4</div>
<div style="top:478px;line-height:13px;right:158.35px;text-align:right;transform:scaleX(0.942);transform-origin:100% 0;">14.8</div>
<div style="top:478px;line-height:13px;right:136.85px;text-align:right;transform:scaleX(0.942);transform-origin:100% 0;">5.4</div>
<div style="top:478px;line-height:13px;right:102.60px;text-align:right;transform:scaleX(0.942);transform-origin:100% 0;">19.4</div>
<div style="top:478px;line-height:13px;right:77.60px;text-align:right;transform:scaleX(0.942);transform-origin:100% 0;">8.2</div>
<div style="top:478px;line-height:13px;right:43.10px;text-align:right;transform:scaleX(0.942);transform-origin:100% 0;">16.9</div>
<div style="top:478px;line-height:13px;right:21.35px;text-align:right;transform:scaleX(0.942);transform-origin:100% 0;">5.7</div>
<div style="top:489px;line-height:13px;left:15.20px;transform:scaleX(0.921);transform-origin:0 0;">Dallas ISD, TX</div>
<div style="top:489px;line-height:13px;right:518.60px;text-align:right;transform:scaleX(0.942);transform-origin:100% 0;">62.1</div>
<div style="top:489px;line-height:13px;right:496.60px;text-align:right;transform:scaleX(0.942);transform-origin:100% 0;">3.5</div>
<div style="top:489px;line-height:13px;right:462.10px;text-align:right;transform:scaleX(0.942);transform-origin:100% 0;">71.0</div>
<div style="top:489px;line-height:13px;right:437.85px;text-align:right;transform:scaleX(0.942);transform-origin:100% 0;">3.3</div>
<div style="top:489px;line-height:13px;right:402.85px;text-align:right;transform:scaleX(0.942);transform-origin:100% 0;">66.4</div>
<div style="top:489px;line-height:13px;right:378.20px;text-align:right;transform:scaleX(0.942);transform-origin:100% 0;">2.7</div>
<div style="top:489px;line-height:13px;right:333.40px;text-align:right;transform:scaleX(0.942);transform-origin:100% 0;">7.2</div>
<div style="top:489px;line-height:13px;right:311.10px;text-align:right;transform:scaleX(0.942);transform-origin:100% 0;">1.6</div>
<div style="top:489px;line-height:13px;right:279.60px;text-align:right;transform:scaleX(0.942);transform-origin:100% 0;">9.0</div>
<div style="top:489px;line-height:13px;right:257.40px;text-align:right;transform:scaleX(0.942);transform-origin:100% 0;">2.9</div>
<div style="top:489px;line-height:13px;right:225.70px;text-align:right;transform:scaleX(0.942);transform-origin:100% 0;">8.0</div>
<div style="top:489px;line-height:13px;right:203.60px;text-align:right;transform:scaleX(0.942);transform-origin:100% 0;">1.7</div>
<div style="top:489px;line-height:13px;right:158.35px;text-align:right;transform:scaleX(0.942);transform-origin:100% 0;">16.1</div>
<div style="top:489px;line-height:13px;right:136.85px;text-align:right;transform:scaleX(0.942);transform-origin:100% 0;">2.7</div>
<div style="top:489px;line-height:13px;right:102.60px;text-align:right;transform:scaleX(0.942);transform-origin:100% 0;">20.5</div>
<div style="top:489px;line-height:13px;right:77.60px;text-align:right;transform:scaleX(0.942);transform-origin:100% 0;">3.2</div>
<div style="top:489px;line-height:13px;right:43.10px;text-align:right;transform:scaleX(0.942);transform-origin:100% 0;">18.1</div>
<div style="top:489px;line-height:13px;right:21.35px;text-align:right;transform:scaleX(0.942);transform-origin:100% 0;">2.4</div>
<div style="top:500px;line-height:13px;left:15.20px;transform:scaleX(0.921);transform-origin:0 0;">DeKalb County PS, GA</div>
<div style="top:500px;line-height:13px;right:518.60px;text-align:right;transform:scaleX(0.942);transform-origin:100% 0;">50.0</div>
<div style="top:500px;line-height:13px;right:496.60px;text-align:right;transform:scaleX(0.942);transform-origin:100% 0;">3.7</div>
<div style="top:500px;line-height:13px;right:462.10px;text-align:right;transform:scaleX(0.942);transform-origin:100% 0;">52.0</div>
<div style="top:500px;line-height:13px;right:437.85px;text-align:right;transform:scaleX(0.942);transform-origin:100% 0;">4.1</div>
<div style="top:500px;line-height:13px;right:402.85px;text-align:right;transform:scaleX(0.942);transform-origin:100% 0;">51.0</div>
<div style="top:500px;line-height:13px;right:378.20px;text-align:right;transform:scaleX(0.942);transform-origin:100% 0;">3.0</div>
<div style="top:500px;line-height:13px;right:333.40px;text-align:right;transform:scaleX(0.942);transform-origin:100% 0;">4.4</div>
<div style="top:500px;line-height:13px;right:311.10px;text-align:right;transform:scaleX(0.942);transform-origin:100% 0;">1.2</div>
<div style="top:500px;line-height:13px;right:279.60px;text-align:right;transform:scaleX(0.942);transform-origin:100% 0;">6.3</div>
<div style="top:500px;line-height:13px;right:257.40px;text-align:right;transform:scaleX(0.942);transform-origin:100% 0;">1.4</div>
<div style="top:500px;line-height:13px;right:225.70px;text-align:right;transform:scaleX(0.942);transform-origin:100% 0;">5.3</div>
<div style="top:500px;line-height:13px;right:203.60px;text-align:right;transform:scaleX(0.942);transform-origin:100% 0;">1.0</div>
<div style="top:500px;line-height:13px;right:158.35px;text-align:right;transform:scaleX(0.942);transform-origin:100% 0;">8.0</div>
<div style="top:500px;line-height:13px;right:136.85px;text-align:right;transform:scaleX(0.942);transform-origin:100% 0;">1.7</div>
<div style="top:500px;line-height:13px;right:102.60px;text-align:right;transform:scaleX(0.942);transform-origin:100% 0;">11.2</div>
<div style="top:500px;line-height:13px;right:77.60px;text-align:right;transform:scaleX(0.942);transform-origin:100% 0;">1.9</div>
<div style="top:500px;line-height:13px;right:43.10px;text-align:right;transform:scaleX(0.942);transform-origin:100% 0;">9.5</div>
<div style="top:500px;line-height:13px;right:21.35px;text-align:right;transform:scaleX(0.942);transform-origin:100% 0;">1.5</div>
<div style="top:511px;line-height:13px;left:15.20px;transform:scaleX(0.921);transform-origin:0 0;">Detroit PS, MI</div>
<div style="top:511px;line-height:13px;right:518.60px;text-align:right;transform:scaleX(0.942);transform-origin:100% 0;">60.8</div>
<div style="top:511px;line-height:13px;right:496.60px;text-align:right;transform:scaleX(0.942);transform-origin:100% 0;">4.8</div>
<div style="top:511px;line-height:13px;right:462.10px;text-align:right;transform:scaleX(0.942);transform-origin:100% 0;">60.6</div>
<div style="top:511px;line-height:13px;right:437.85px;text-align:right;transform:scaleX(0.942);transform-origin:100% 0;">4.9</div>
<div style="top:511px;line-height:13px;right:402.85px;text-align:right;transform:scaleX(0.942);transform-origin:100% 0;">60.7</div>
<div style="top:511px;line-height:13px;right:378.20px;text-align:right;transform:scaleX(0.942);transform-origin:100% 0;">3.5</div>
<div style="top:511px;line-height:13px;right:333.40px;text-align:right;transform:scaleX(0.942);transform-origin:100% 0;">4.2</div>
<div style="top:511px;line-height:13px;right:311.10px;text-align:right;transform:scaleX(0.942);transform-origin:100% 0;">1.5</div>
<div style="top:511px;line-height:13px;right:279.60px;text-align:right;transform:scaleX(0.942);transform-origin:100% 0;">6.6</div>
<div style="top:511px;line-height:13px;right:257.40px;text-align:right;transform:scaleX(0.942);transform-origin:100% 0;">1.7</div>
<div style="top:511px;line-height:13px;right:225.70px;text-align:right;transform:scaleX(0.942);transform-origin:100% 0;">5.3</div>
<div style="top:511px;line-height:13px;right:203.60px;text-align:right;transform:scaleX(0.942);transform-origin:100% 0;">1.2</div>
<div style="top:511px;line-height:13px;right:158.35px;text-align:right;transform:scaleX(0.942);transform-origin:100% 0;">9.3</div>
<div style="top:511px;line-height:13px;right:136.85px;text-align:right;transform:scaleX(0.942);transform-origin:100% 0;">2.8</div>
<div style="top:511px;line-height:13px;right:102.60px;text-align:right;transform:scaleX(0.942);transform-origin:100% 0;">8.8</div>
<div style="top:511px;line-height:13px;right:77.60px;text-align:right;transform:scaleX(0.942);transform-origin:100% 0;">2.5</div>
<div style="top:511px;line-height:13px;right:43.10px;text-align:right;transform:scaleX(0.942);transform-origin:100% 0;">9.1</div>
<div style="top:511px;line-height:13px;right:21.35px;text-align:right;transform:scaleX(0.942);transform-origin:100% 0;">2.0</div>
<div style="top:521px;line-height:13px;left:15.20px;transform:scaleX(0.921);transform-origin:0 0;">District of Columbia PS</div>
<div style="top:521px;line-height:13px;right:518.60px;text-align:right;transform:scaleX(0.942);transform-origin:100% 0;">55.7</div>
<div style="top:521px;line-height:13px;right:496.60px;text-align:right;transform:scaleX(0.942);transform-origin:100% 0;">4.4</div>
<div style="top:521px;line-height:13px;right:462.10px;text-align:right;transform:scaleX(0.942);transform-origin:100% 0;">55.2</div>
<div style="top:521px;line-height:13px;right:437.85px;text-align:right;transform:scaleX(0.942);transform-origin:100% 0;">3.9</div>
<div style="top:521px;line-height:13px;right:402.85px;text-align:right;transform:scaleX(0.942);transform-origin:100% 0;">55.5</div>
<div style="top:521px;line-height:13px;right:378.20px;text-align:right;transform:scaleX(0.942);transform-origin:100% 0;">3.1</div>
<div style="top:521px;line-height:13px;right:333.40px;text-align:right;transform:scaleX(0.942);transform-origin:100% 0;">5.5</div>
<div style="top:521px;line-height:13px;right:311.10px;text-align:right;transform:scaleX(0.942);transform-origin:100% 0;">1.6</div>
<div style="top:521px;line-height:13px;right:279.60px;text-align:right;transform:scaleX(0.942);transform-origin:100% 0;">10.1</div>
<div style="top:521px;line-height:13px;right:257.40px;text-align:right;transform:scaleX(0.942);transform-origin:100% 0;">2.7</div>
<div style="top:521px;line-height:13px;right:225.70px;text-align:right;transform:scaleX(0.942);transform-origin:100% 0;">7.7</div>
<div style="top:521px;line-height:13px;right:203.60px;text-align:right;transform:scaleX(0.942);transform-origin:100% 0;">1.7</div>
<div style="top:521px;line-height:13px;right:158.35px;text-align:right;transform:scaleX(0.942);transform-origin:100% 0;">12.0</div>
<div style="top:521px;line-height:13px;right:136.85px;text-align:right;transform:scaleX(0.942);transform-origin:100% 0;">2.4</div>
<div style="top:521px;line-height:13px;right:102.60px;text-align:right;transform:scaleX(0.942);transform-origin:100% 0;">14.6</div>
<div style="top:521px;line-height:13px;right:77.60px;text-align:right;transform:scaleX(0.942);transform-origin:100% 0;">3.2</div>
<div style="top:521px;line-height:13px;right:43.10px;text-align:right;transform:scaleX(0.942);transform-origin:100% 0;">13.2</div>
<div style="top:521px;line-height:13px;right:21.35px;text-align:right;transform:scaleX(0.942);transform-origin:100% 0;">2.0</div>
<div style="top:532px;line-height:13px;left:15.20px;transform:scaleX(0.921);transform-origin:0 0;">Los Angeles USD, CA</div>
<div style="top:532px;line-height:13px;right:518.60px;text-align:right;transform:scaleX(0.942);transform-origin:100% 0;">51.1</div>
<div style="top:532px;line-height:13px;right:496.60px;text-align:right;transform:scaleX(0.942);transform-origin:100% 0;">4.4</div>
<div style="top:532px;line-height:13px;right:462.10px;text-align:right;transform:scaleX(0.942);transform-origin:100% 0;">58.2</div>
<div style="top:532px;line-height:13px;right:437.85px;text-align:right;transform:scaleX(0.942);transform-origin:100% 0;">4.3</div>
<div style="top:532px;line-height:13px;right:402.85px;text-align:right;transform:scaleX(0.942);transform-origin:100% 0;">54.6</div>
<div style="top:532px;line-height:13px;right:378.20px;text-align:right;transform:scaleX(0.942);transform-origin:100% 0;">2.7</div>
<div style="top:532px;line-height:13px;right:333.40px;text-align:right;transform:scaleX(0.942);transform-origin:100% 0;">5.9</div>
<div style="top:532px;line-height:13px;right:311.10px;text-align:right;transform:scaleX(0.942);transform-origin:100% 0;">3.5</div>
<div style="top:532px;line-height:13px;right:279.60px;text-align:right;transform:scaleX(0.942);transform-origin:100% 0;">4.5</div>
<div style="top:532px;line-height:13px;right:257.40px;text-align:right;transform:scaleX(0.942);transform-origin:100% 0;">1.3</div>
<div style="top:532px;line-height:13px;right:225.70px;text-align:right;transform:scaleX(0.942);transform-origin:100% 0;">5.2</div>
<div style="top:532px;line-height:13px;right:203.60px;text-align:right;transform:scaleX(0.942);transform-origin:100% 0;">1.8</div>
<div style="top:532px;line-height:13px;right:158.35px;text-align:right;transform:scaleX(0.942);transform-origin:100% 0;">12.0</div>
<div style="top:532px;line-height:13px;right:136.85px;text-align:right;transform:scaleX(0.942);transform-origin:100% 0;">4.2</div>
<div style="top:532px;line-height:13px;right:102.60px;text-align:right;transform:scaleX(0.942);transform-origin:100% 0;">16.9</div>
<div style="top:532px;line-height:13px;right:77.60px;text-align:right;transform:scaleX(0.942);transform-origin:100% 0;">2.9</div>
<div style="top:532px;line-height:13px;right:43.10px;text-align:right;transform:scaleX(0.942);transform-origin:100% 0;">14.4</div>
<div style="top:532px;line-height:13px;right:21.35px;text-align:right;transform:scaleX(0.942);transform-origin:100% 0;">2.6</div>
<div style="top:543px;line-height:13px;left:15.20px;transform:scaleX(0.921);transform-origin:0 0;">Memphis PS, TN</div>
<div style="top:543px;line-height:13px;right:518.60px;text-align:right;transform:scaleX(0.942);transform-origin:100% 0;">51.0</div>
<div style="top:543px;line-height:13px;right:496.60px;text-align:right;transform:scaleX(0.942);transform-origin:100% 0;">4.1</div>
<div style="top:543px;line-height:13px;right:462.10px;text-align:right;transform:scaleX(0.942);transform-origin:100% 0;">55.5</div>
<div style="top:543px;line-height:13px;right:437.85px;text-align:right;transform:scaleX(0.942);transform-origin:100% 0;">3.6</div>
<div style="top:543px;line-height:13px;right:402.85px;text-align:right;transform:scaleX(0.942);transform-origin:100% 0;">53.3</div>
<div style="top:543px;line-height:13px;right:378.20px;text-align:right;transform:scaleX(0.942);transform-origin:100% 0;">2.8</div>
<div style="top:543px;line-height:13px;right:333.40px;text-align:right;transform:scaleX(0.942);transform-origin:100% 0;">3.5</div>
<div style="top:543px;line-height:13px;right:311.10px;text-align:right;transform:scaleX(0.942);transform-origin:100% 0;">1.3</div>
<div style="top:543px;line-height:13px;right:279.60px;text-align:right;transform:scaleX(0.942);transform-origin:100% 0;">5.9</div>
<div style="top:543px;line-height:13px;right:257.40px;text-align:right;transform:scaleX(0.942);transform-origin:100% 0;">1.9</div>
<div style="top:543px;line-height:13px;right:225.70px;text-align:right;transform:scaleX(0.942);transform-origin:100% 0;">4.7</div>
<div style="top:543px;line-height:13px;right:203.60px;text-align:right;transform:scaleX(0.942);transform-origin:100% 0;">1.2</div>
<div style="top:543px;line-height:13px;right:158.35px;text-align:right;transform:scaleX(0.942);transform-origin:100% 0;">8.2</div>
<div style="top:543px;line-height:13px;right:136.85px;text-align:right;transform:scaleX(0.942);transform-origin:100% 0;">2.1</div>
<div style="top:543px;line-height:13px;right:102.60px;text-align:right;transform:scaleX(0.942);transform-origin:100% 0;">10.2</div>
<div style="top:543px;line-height:13px;right:77.60px;text-align:right;transform:scaleX(0.942);transform-origin:100% 0;">2.5</div>
<div style="top:543px;line-height:13px;right:43.10px;text-align:right;transform:scaleX(0.942);transform-origin:100% 0;">9.2</div>
<div style="top:543px;line-height:13px;right:21.35px;text-align:right;transform:scaleX(0.942);transform-origin:100% 0;">1.8</div>
<div style="top:554px;line-height:13px;left:15.20px;transform:scaleX(0.921);transform-origin:0 0;">Miami-Dade County PS, FL</div>
<div style="top:554px;line-height:13px;right:518.60px;text-align:right;transform:scaleX(0.942);transform-origin:100% 0;">44.4</div>
<div style="top:554px;line-height:13px;right:496.60px;text-align:right;transform:scaleX(0.942);transform-origin:100% 0;">3.6</div>
<div style="top:554px;line-height:13px;right:462.10px;text-align:right;transform:scaleX(0.942);transform-origin:100% 0;">43.5</div>
<div style="top:554px;line-height:13px;right:437.85px;text-align:right;transform:scaleX(0.942);transform-origin:100% 0;">3.3</div>
<div style="top:554px;line-height:13px;right:402.85px;text-align:right;transform:scaleX(0.942);transform-origin:100% 0;">43.9</div>
<div style="top:554px;line-height:13px;right:378.20px;text-align:right;transform:scaleX(0.942);transform-origin:100% 0;">2.3</div>
<div style="top:554px;line-height:13px;right:333.40px;text-align:right;transform:scaleX(0.942);transform-origin:100% 0;">5.9</div>
<div style="top:554px;line-height:13px;right:311.10px;text-align:right;transform:scaleX(0.942);transform-origin:100% 0;">1.9</div>
<div style="top:554px;line-height:13px;right:279.60px;text-align:right;transform:scaleX(0.942);transform-origin:100% 0;">8.9</div>
<div style="top:554px;line-height:13px;right:257.40px;text-align:right;transform:scaleX(0.942);transform-origin:100% 0;">2.0</div>
<div style="top:554px;line-height:13px;right:225.70px;text-align:right;transform:scaleX(0.942);transform-origin:100% 0;">7.4</div>
<div style="top:554px;line-height:13px;right:203.60px;text-align:right;transform:scaleX(0.942);transform-origin:100% 0;">1.6</div>
<div style="top:554px;line-height:13px;right:158.35px;text-align:right;transform:scaleX(0.942);transform-origin:100% 0;">12.2</div>
<div style="top:554px;line-height:13px;right:136.85px;text-align:right;transform:scaleX(0.942);transform-origin:100% 0;">2.4</div>
<div style="top:554px;line-height:13px;right:102.60px;text-align:right;transform:scaleX(0.942);transform-origin:100% 0;">15.1</div>
<div style="top:554px;line-height:13px;right:77.60px;text-align:right;transform:scaleX(0.942);transform-origin:100% 0;">2.4</div>
<div style="top:554px;line-height:13px;right:43.10px;text-align:right;transform:scaleX(0.942);transform-origin:100% 0;">13.5</div>
<div style="top:554px;line-height:13px;right:21.35px;text-align:right;transform:scaleX(0.942);transform-origin:100% 0;">1.7</div>
<div style="top:565px;line-height:13px;left:15.20px;transform:scaleX(0.921);transform-origin:0 0;">Milwaukee PS, WI</div>
<div style="top:565px;line-height:13px;right:518.60px;text-align:right;transform:scaleX(0.942);transform-origin:100% 0;">60.4</div>
<div style="top:565px;line-height:13px;right:496.60px;text-align:right;transform:scaleX(0.942);transform-origin:100% 0;">4.5</div>
<div style="top:565px;line-height:13px;right:462.10px;text-align:right;transform:scaleX(0.942);transform-origin:100% 0;">61.9</div>
<div style="top:565px;line-height:13px;right:437.85px;text-align:right;transform:scaleX(0.942);transform-origin:100% 0;">4.9</div>
<div style="top:565px;line-height:13px;right:402.85px;text-align:right;transform:scaleX(0.942);transform-origin:100% 0;">61.2</div>
<div style="top:565px;line-height:13px;right:378.20px;text-align:right;transform:scaleX(0.942);transform-origin:100% 0;">3.3</div>
<div style="top:565px;line-height:13px;right:333.40px;text-align:right;transform:scaleX(0.942);transform-origin:100% 0;">12.7</div>
<div style="top:565px;line-height:13px;right:311.10px;text-align:right;transform:scaleX(0.942);transform-origin:100% 0;">2.9</div>
<div style="top:565px;line-height:13px;right:279.60px;text-align:right;transform:scaleX(0.942);transform-origin:100% 0;">14.2</div>
<div style="top:565px;line-height:13px;right:257.40px;text-align:right;transform:scaleX(0.942);transform-origin:100% 0;">2.9</div>
<div style="top:565px;line-height:13px;right:225.70px;text-align:right;transform:scaleX(0.942);transform-origin:100% 0;">13.4</div>
<div style="top:565px;line-height:13px;right:203.60px;text-align:right;transform:scaleX(0.942);transform-origin:100% 0;">2.0</div>
<div style="top:565px;line-height:13px;right:158.35px;text-align:right;transform:scaleX(0.942);transform-origin:100% 0;">11.6</div>
<div style="top:565px;line-height:13px;right:136.85px;text-align:right;transform:scaleX(0.942);transform-origin:100% 0;">3.0</div>
<div style="top:565px;line-height:13px;right:102.60px;text-align:right;transform:scaleX(0.942);transform-origin:100% 0;">15.7</div>
<div style="top:565px;line-height:13px;right:77.60px;text-align:right;transform:scaleX(0.942);transform-origin:100% 0;">3.4</div>
<div style="top:565px;line-height:13px;right:43.10px;text-align:right;transform:scaleX(0.942);transform-origin:100% 0;">13.6</div>
<div style="top:565px;line-height:13px;right:21.35px;text-align:right;transform:scaleX(0.942);transform-origin:100% 0;">2.1</div>
<div style="top:576px;line-height:13px;left:15.20px;transform:scaleX(0.921);transform-origin:0 0;">New Orleans PS, LA</div>
<div style="top:576px;line-height:13px;right:518.60px;text-align:right;transform:scaleX(0.942);transform-origin:100% 0;">49.1</div>
<div style="top:576px;line-height:13px;right:496.60px;text-align:right;transform:scaleX(0.942);transform-origin:100% 0;">4.1</div>
<div style="top:576px;line-height:13px;right:462.10px;text-align:right;transform:scaleX(0.942);transform-origin:100% 0;">54.0</div>
<div style="top:576px;line-height:13px;right:437.85px;text-align:right;transform:scaleX(0.942);transform-origin:100% 0;">3.5</div>
<div style="top:576px;line-height:13px;right:402.85px;text-align:right;transform:scaleX(0.942);transform-origin:100% 0;">51.4</div>
<div style="top:576px;line-height:13px;right:378.20px;text-align:right;transform:scaleX(0.942);transform-origin:100% 0;">3.1</div>
<div style="top:576px;line-height:13px;right:333.40px;text-align:right;transform:scaleX(0.942);transform-origin:100% 0;">4.9</div>
<div style="top:576px;line-height:13px;right:311.10px;text-align:right;transform:scaleX(0.942);transform-origin:100% 0;">1.4</div>
<div style="top:576px;line-height:13px;right:279.60px;text-align:right;transform:scaleX(0.942);transform-origin:100% 0;">8.7</div>
<div style="top:576px;line-height:13px;right:257.40px;text-align:right;transform:scaleX(0.942);transform-origin:100% 0;">2.0</div>
<div style="top:576px;line-height:13px;right:225.70px;text-align:right;transform:scaleX(0.942);transform-origin:100% 0;">6.7</div>
<div style="top:576px;line-height:13px;right:203.60px;text-align:right;transform:scaleX(0.942);transform-origin:100% 0;">1.3</div>
<div style="top:576px;line-height:13px;right:158.35px;text-align:right;transform:scaleX(0.942);transform-origin:100% 0;">8.3</div>
<div style="top:576px;line-height:13px;right:136.85px;text-align:right;transform:scaleX(0.942);transform-origin:100% 0;">2.0</div>
<div style="top:576px;line-height:13px;right:102.60px;text-align:right;transform:scaleX(0.942);transform-origin:100% 0;">15.0</div>
<div style="top:576px;line-height:13px;right:77.60px;text-align:right;transform:scaleX(0.942);transform-origin:100% 0;">3.0</div>
<div style="top:576px;line-height:13px;right:43.10px;text-align:right;transform:scaleX(0.942);transform-origin:100% 0;">11.5</div>
<div style="top:576px;line-height:13px;right:21.35px;text-align:right;transform:scaleX(0.942);transform-origin:100% 0;">1.8</div>
<div style="top:587px;line-height:13px;left:15.20px;transform:scaleX(0.921);transform-origin:0 0;">New York City PS, NY</div>
<div style="top:587px;line-height:13px;right:518.60px;text-align:right;transform:scaleX(0.942);transform-origin:100% 0;">51.7</div>
<div style="top:587px;line-height:13px;right:496.60px;text-align:right;transform:scaleX(0.942);transform-origin:100% 0;">2.2</div>
<div style="top:587px;line-height:13px;right:462.10px;text-align:right;transform:scaleX(0.942);transform-origin:100% 0;">46.9</div>
<div style="top:587px;line-height:13px;right:437.85px;text-align:right;transform:scaleX(0.942);transform-origin:100% 0;">2.1</div>
<div style="top:587px;line-height:13px;right:402.85px;text-align:right;transform:scaleX(0.942);transform-origin:100% 0;">49.4</div>
<div style="top:587px;line-height:13px;right:378.20px;text-align:right;transform:scaleX(0.942);transform-origin:100% 0;">1.5</div>
<div style="top:587px;line-height:13px;right:333.40px;text-align:right;transform:scaleX(0.942);transform-origin:100% 0;">9.1</div>
<div style="top:587px;line-height:13px;right:311.10px;text-align:right;transform:scaleX(0.942);transform-origin:100% 0;">1.5</div>
<div style="top:587px;line-height:13px;right:279.60px;text-align:right;transform:scaleX(0.942);transform-origin:100% 0;">7.1</div>
<div style="top:587px;line-height:13px;right:257.40px;text-align:right;transform:scaleX(0.942);transform-origin:100% 0;">0.8</div>
<div style="top:587px;line-height:13px;right:225.70px;text-align:right;transform:scaleX(0.942);transform-origin:100% 0;">8.1</div>
<div style="top:587px;line-height:13px;right:203.60px;text-align:right;transform:scaleX(0.942);transform-origin:100% 0;">1.0</div>
<div style="top:587px;line-height:13px;right:158.35px;text-align:right;transform:scaleX(0.942);transform-origin:100% 0;">16.2</div>
<div style="top:587px;line-height:13px;right:136.85px;text-align:right;transform:scaleX(0.942);transform-origin:100% 0;">1.9</div>
<div style="top:587px;line-height:13px;right:102.60px;text-align:right;transform:scaleX(0.942);transform-origin:100% 0;">13.4</div>
<div style="top:587px;line-height:13px;right:77.60px;text-align:right;transform:scaleX(0.942);transform-origin:100% 0;">1.5</div>
<div style="top:587px;line-height:13px;right:43.10px;text-align:right;transform:scaleX(0.942);transform-origin:100% 0;">14.8</div>
<div style="top:587px;line-height:13px;right:21.35px;text-align:right;transform:scaleX(0.942);transform-origin:100% 0;">1.2</div>
<div style="top:598px;line-height:13px;left:15.20px;transform:scaleX(0.921);transform-origin:0 0;">Orange County PS, FL</div>
<div style="top:598px;line-height:13px;right:518.60px;text-align:right;transform:scaleX(0.942);transform-origin:100% 0;">51.6</div>
<div style="top:598px;line-height:13px;right:496.60px;text-align:right;transform:scaleX(0.942);transform-origin:100% 0;">6.2</div>
<div style="top:598px;line-height:13px;right:462.10px;text-align:right;transform:scaleX(0.942);transform-origin:100% 0;">55.0</div>
<div style="top:598px;line-height:13px;right:437.85px;text-align:right;transform:scaleX(0.942);transform-origin:100% 0;">4.5</div>
<div style="top:598px;line-height:13px;right:402.85px;text-align:right;transform:scaleX(0.942);transform-origin:100% 0;">53.3</div>
<div style="top:598px;line-height:13px;right:378.20px;text-align:right;transform:scaleX(0.942);transform-origin:100% 0;">4.8</div>
<div style="top:598px;line-height:13px;right:333.40px;text-align:right;transform:scaleX(0.942);transform-origin:100% 0;">10.2</div>
<div style="top:598px;line-height:13px;right:311.10px;text-align:right;transform:scaleX(0.942);transform-origin:100% 0;">2.5</div>
<div style="top:598px;line-height:13px;right:279.60px;text-align:right;transform:scaleX(0.942);transform-origin:100% 0;">11.1</div>
<div style="top:598px;line-height:13px;right:257.40px;text-align:right;transform:scaleX(0.942);transform-origin:100% 0;">3.1</div>
<div style="top:598px;line-height:13px;right:225.70px;text-align:right;transform:scaleX(0.942);transform-origin:100% 0;">10.6</div>
<div style="top:598px;line-height:13px;right:203.60px;text-align:right;transform:scaleX(0.942);transform-origin:100% 0;">2.5</div>
<div style="top:598px;line-height:13px;right:158.35px;text-align:right;transform:scaleX(0.942);transform-origin:100% 0;">15.3</div>
<div style="top:598px;line-height:13px;right:136.85px;text-align:right;transform:scaleX(0.942);transform-origin:100% 0;">3.4</div>
<div style="top:598px;line-height:13px;right:102.60px;text-align:right;transform:scaleX(0.942);transform-origin:100% 0;">16.7</div>
<div style="top:598px;line-height:13px;right:77.60px;text-align:right;transform:scaleX(0.942);transform-origin:100% 0;">3.2</div>
<div style="top:598px;line-height:13px;right:43.10px;text-align:right;transform:scaleX(0.942);transform-origin:100% 0;">16.0</div>
<div style="top:598px;line-height:13px;right:21.35px;text-align:right;transform:scaleX(0.942);transform-origin:100% 0;">2.7</div>
<div style="top:608px;line-height:13px;left:15.20px;transform:scaleX(0.921);transform-origin:0 0;">Palm Beach County SD, FL</div>
<div style="top:608px;line-height:13px;right:518.60px;text-align:right;transform:scaleX(0.942);transform-origin:100% 0;">50.6</div>
<div style="top:608px;line-height:13px;right:496.60px;text-align:right;transform:scaleX(0.942);transform-origin:100% 0;">3.8</div>
<div style="top:608px;line-height:13px;right:462.10px;text-align:right;transform:scaleX(0.942);transform-origin:100% 0;">53.2</div>
<div style="top:608px;line-height:13px;right:437.85px;text-align:right;transform:scaleX(0.942);transform-origin:100% 0;">4.2</div>
<div style="top:608px;line-height:13px;right:402.85px;text-align:right;transform:scaleX(0.942);transform-origin:100% 0;">51.8</div>
<div style="top:608px;line-height:13px;right:378.20px;text-align:right;transform:scaleX(0.942);transform-origin:100% 0;">3.0</div>
<div style="top:608px;line-height:13px;right:333.40px;text-align:right;transform:scaleX(0.942);transform-origin:100% 0;">10.7</div>
<div style="top:608px;line-height:13px;right:311.10px;text-align:right;transform:scaleX(0.942);transform-origin:100% 0;">2.3</div>
<div style="top:608px;line-height:13px;right:279.60px;text-align:right;transform:scaleX(0.942);transform-origin:100% 0;">13.1</div>
<div style="top:608px;line-height:13px;right:257.40px;text-align:right;transform:scaleX(0.942);transform-origin:100% 0;">2.8</div>
<div style="top:608px;line-height:13px;right:225.70px;text-align:right;transform:scaleX(0.942);transform-origin:100% 0;">11.9</div>
<div style="top:608px;line-height:13px;right:203.60px;text-align:right;transform:scaleX(0.942);transform-origin:100% 0;">1.9</div>
<div style="top:608px;line-height:13px;right:158.35px;text-align:right;transform:scaleX(0.942);transform-origin:100% 0;">15.8</div>
<div style="top:608px;line-height:13px;right:136.85px;text-align:right;transform:scaleX(0.942);transform-origin:100% 0;">2.9</div>
<div style="top:608px;line-height:13px;right:102.60px;text-align:right;transform:scaleX(0.942);transform-origin:100% 0;">18.4</div>
<div style="top:608px;line-height:13px;right:77.60px;text-align:right;transform:scaleX(0.942);transform-origin:100% 0;">3.2</div>
<div style="top:608px;line-height:13px;right:43.10px;text-align:right;transform:scaleX(0.942);transform-origin:100% 0;">17.0</div>
<div style="top:608px;line-height:13px;right:21.35px;text-align:right;transform:scaleX(0.942);transform-origin:100% 0;">2.3</div>
<div style="top:619px;line-height:13px;left:15.20px;transform:scaleX(0.921);transform-origin:0 0;">Philadelphia SD, PA</div>
<div style="top:619px;line-height:13px;right:518.60px;text-align:right;transform:scaleX(0.942);transform-origin:100% 0;">61.1</div>
<div style="top:619px;line-height:13px;right:496.60px;text-align:right;transform:scaleX(0.942);transform-origin:100% 0;">4.0</div>
<div style="top:619px;line-height:13px;right:462.10px;text-align:right;transform:scaleX(0.942);transform-origin:100% 0;">58.0</div>
<div style="top:619px;line-height:13px;right:437.85px;text-align:right;transform:scaleX(0.942);transform-origin:100% 0;">4.6</div>
<div style="top:619px;line-height:13px;right:402.85px;text-align:right;transform:scaleX(0.942);transform-origin:100% 0;">59.7</div>
<div style="top:619px;line-height:13px;right:378.20px;text-align:right;transform:scaleX(0.942);transform-origin:100% 0;">3.4</div>
<div style="top:619px;line-height:13px;right:333.40px;text-align:right;transform:scaleX(0.942);transform-origin:100% 0;">10.3</div>
<div style="top:619px;line-height:13px;right:311.10px;text-align:right;transform:scaleX(0.942);transform-origin:100% 0;">3.0</div>
<div style="top:619px;line-height:13px;right:279.60px;text-align:right;transform:scaleX(0.942);transform-origin:100% 0;">10.6</div>
<div style="top:619px;line-height:13px;right:257.40px;text-align:right;transform:scaleX(0.942);transform-origin:100% 0;">3.0</div>
<div style="top:619px;line-height:13px;right:225.70px;text-align:right;transform:scaleX(0.942);transform-origin:100% 0;">10.5</div>
<div style="top:619px;line-height:13px;right:203.60px;text-align:right;transform:scaleX(0.942);transform-origin:100% 0;">2.2</div>
<div style="top:619px;line-height:13px;right:158.35px;text-align:right;transform:scaleX(0.942);transform-origin:100% 0;">14.6</div>
<div style="top:619px;line-height:13px;right:136.85px;text-align:right;transform:scaleX(0.942);transform-origin:100% 0;">3.0</div>
<div style="top:619px;line-height:13px;right:102.60px;text-align:right;transform:scaleX(0.942);transform-origin:100% 0;">13.0</div>
<div style="top:619px;line-height:13px;right:77.60px;text-align:right;transform:scaleX(0.942);transform-origin:100% 0;">2.8</div>
<div style="top:619px;line-height:13px;right:43.10px;text-align:right;transform:scaleX(0.942);transform-origin:100% 0;">13.9</div>
<div style="top:619px;line-height:13px;right:21.35px;text-align:right;transform:scaleX(0.942);transform-origin:100% 0;">2.1</div>
<div style="top:630px;line-height:13px;left:15.20px;transform:scaleX(0.921);transform-origin:0 0;">San Bernardino USD, CA</div>
<div style="top:630px;line-height:13px;right:518.60px;text-align:right;transform:scaleX(0.942);transform-origin:100% 0;">53.6</div>
<div style="top:630px;line-height:13px;right:496.60px;text-align:right;transform:scaleX(0.942);transform-origin:100% 0;">4.2</div>
<div style="top:630px;line-height:13px;right:462.10px;text-align:right;transform:scaleX(0.942);transform-origin:100% 0;">53.5</div>
<div style="top:630px;line-height:13px;right:437.85px;text-align:right;transform:scaleX(0.942);transform-origin:100% 0;">4.6</div>
<div style="top:630px;line-height:13px;right:402.85px;text-align:right;transform:scaleX(0.942);transform-origin:100% 0;">53.7</div>
<div style="top:630px;line-height:13px;right:378.20px;text-align:right;transform:scaleX(0.942);transform-origin:100% 0;">3.6</div>
<div style="top:630px;line-height:13px;right:333.40px;text-align:right;transform:scaleX(0.942);transform-origin:100% 0;">6.0</div>
<div style="top:630px;line-height:13px;right:311.10px;text-align:right;transform:scaleX(0.942);transform-origin:100% 0;">1.8</div>
<div style="top:630px;line-height:13px;right:279.60px;text-align:right;transform:scaleX(0.942);transform-origin:100% 0;">8.5</div>
<div style="top:630px;line-height:13px;right:257.40px;text-align:right;transform:scaleX(0.942);transform-origin:100% 0;">2.3</div>
<div style="top:630px;line-height:13px;right:225.70px;text-align:right;transform:scaleX(0.942);transform-origin:100% 0;">7.2</div>
<div style="top:630px;line-height:13px;right:203.60px;text-align:right;transform:scaleX(0.942);transform-origin:100% 0;">1.6</div>
<div style="top:630px;line-height:13px;right:158.35px;text-align:right;transform:scaleX(0.942);transform-origin:100% 0;">10.9</div>
<div style="top:630px;line-height:13px;right:136.85px;text-align:right;transform:scaleX(0.942);transform-origin:100% 0;">2.5</div>
<div style="top:630px;line-height:13px;right:102.60px;text-align:right;transform:scaleX(0.942);transform-origin:100% 0;">13.8</div>
<div style="top:630px;line-height:13px;right:77.60px;text-align:right;transform:scaleX(0.942);transform-origin:100% 0;">2.9</div>
<div style="top:630px;line-height:13px;right:43.10px;text-align:right;transform:scaleX(0.942);transform-origin:100% 0;">12.4</div>
<div style="top:630px;line-height:13px;right:21.35px;text-align:right;transform:scaleX(0.942);transform-origin:100% 0;">1.9</div>
<div style="top:641px;line-height:13px;left:15.20px;transform:scaleX(0.921);transform-origin:0 0;">San Diego USD, CA</div>
<div style="top:641px;line-height:13px;right:518.60px;text-align:right;transform:scaleX(0.942);transform-origin:100% 0;">52.3</div>
<div style="top:641px;line-height:13px;right:496.60px;text-align:right;transform:scaleX(0.942);transform-origin:100% 0;">4.8</div>
<div style="top:641px;line-height:13px;right:462.10px;text-align:right;transform:scaleX(0.942);transform-origin:100% 0;">55.5</div>
<div style="top:641px;line-height:13px;right:437.85px;text-align:right;transform:scaleX(0.942);transform-origin:100% 0;">4.5</div>
<div style="top:641px;line-height:13px;right:402.85px;text-align:right;transform:scaleX(0.942);transform-origin:100% 0;">54.0</div>
<div style="top:641px;line-height:13px;right:378.20px;text-align:right;transform:scaleX(0.942);transform-origin:100% 0;">3.5</div>
<div style="top:641px;line-height:13px;right:333.40px;text-align:right;transform:scaleX(0.942);transform-origin:100% 0;">7.4</div>
<div style="top:641px;line-height:13px;right:311.10px;text-align:right;transform:scaleX(0.942);transform-origin:100% 0;">2.2</div>
<div style="top:641px;line-height:13px;right:279.60px;text-align:right;transform:scaleX(0.942);transform-origin:100% 0;">9.1</div>
<div style="top:641px;line-height:13px;right:257.40px;text-align:right;transform:scaleX(0.942);transform-origin:100% 0;">2.3</div>
<div style="top:641px;line-height:13px;right:225.70px;text-align:right;transform:scaleX(0.942);transform-origin:100% 0;">8.3</div>
<div style="top:641px;line-height:13px;right:203.60px;text-align:right;transform:scaleX(0.942);transform-origin:100% 0;">1.8</div>
<div style="top:641px;line-height:13px;right:158.35px;text-align:right;transform:scaleX(0.942);transform-origin:100% 0;">13.5</div>
<div style="top:641px;line-height:13px;right:136.85px;text-align:right;transform:scaleX(0.942);transform-origin:100% 0;">2.8</div>
<div style="top:641px;line-height:13px;right:102.60px;text-align:right;transform:scaleX(0.942);transform-origin:100% 0;">12.9</div>
<div style="top:641px;line-height:13px;right:77.60px;text-align:right;transform:scaleX(0.942);transform-origin:100% 0;">3.0</div>
<div style="top:641px;line-height:13px;right:43.10px;text-align:right;transform:scaleX(0.942);transform-origin:100% 0;">13.2</div>
<div style="top:641px;line-height:13px;right:21.35px;text-align:right;transform:scaleX(0.942);transform-origin:100% 0;">2.4</div>
<div style="top:654px;line-height:13px;left:7.20px;transform:scaleX(0.99);transform-origin:0 0;">Median</div>
<div style="top:666px;line-height:13px;left:7.20px;transform:scaleX(0.921);transform-origin:0 0;">Range</div>
<div style="top:654px;line-height:13px;right:518.60px;text-align:right;transform:scaleX(0.942);transform-origin:100% 0;">52.0</div>
<div style="top:666px;line-height:13px;left:148.50px;transform:scaleX(0.905);transform-origin:0 0;">44.4–62.1</div>
<div style="top:654px;line-height:13px;right:462.10px;text-align:right;transform:scaleX(0.942);transform-origin:100% 0;">55.1</div>
<div style="top:666px;line-height:13px;left:202.90px;transform:scaleX(0.905);transform-origin:0 0;">43.5–71.0</div>
<div style="top:654px;line-height:13px;right:402.85px;text-align:right;transform:scaleX(0.942);transform-origin:100% 0;">53.5</div>
<div style="top:666px;line-height:13px;left:263.40px;transform:scaleX(0.905);transform-origin:0 0;">43.9–66.4</div>
<div style="top:654px;line-height:13px;right:333.40px;text-align:right;transform:scaleX(0.942);transform-origin:100% 0;">7.3</div>
<div style="top:666px;line-height:13px;left:336.65px;transform:scaleX(0.905);transform-origin:0 0;">3.5–12.7</div>
<div style="top:654px;line-height:13px;right:279.60px;text-align:right;transform:scaleX(0.942);transform-origin:100% 0;">8.9</div>
<div style="top:666px;line-height:13px;left:390.40px;transform:scaleX(0.905);transform-origin:0 0;">4.5–14.2</div>
<div style="top:654px;line-height:13px;right:225.70px;text-align:right;transform:scaleX(0.942);transform-origin:100% 0;">7.9</div>
<div style="top:666px;line-height:13px;left:443.65px;transform:scaleX(0.905);transform-origin:0 0;">4.7–13.4</div>
<div style="top:654px;line-height:13px;right:158.35px;text-align:right;transform:scaleX(0.942);transform-origin:100% 0;">12.8</div>
<div style="top:666px;line-height:13px;left:510.90px;transform:scaleX(0.905);transform-origin:0 0;">8.0–16.2</div>
<div style="top:654px;line-height:13px;right:102.60px;text-align:right;transform:scaleX(0.942);transform-origin:100% 0;">14.2</div>
<div style="top:666px;line-height:13px;left:566.90px;transform:scaleX(0.905);transform-origin:0 0;">8.8–20.5</div>
<div style="top:654px;line-height:13px;right:43.10px;text-align:right;transform:scaleX(0.942);transform-origin:100% 0;">13.4</div>
<div style="top:666px;line-height:13px;left:623.90px;transform:scaleX(0.905);transform-origin:0 0;">9.1–18.1</div>
<div class="r" style="left:6.90px;width:675.10px;top:676.75px;height:1.75px"></div>
<div class="r" style="left:104.30px;width:6.10px;top:706.50px;height:0.90px"></div>
<div class="r" style="left:109.60px;width:0.80px;top:706.50px;height:8.30px"></div>
<div class="fs" style="top:681px;line-height:11px;font-size:8px;right:676.70px;text-align:right;transform:scaleX(0.95);transform-origin:100% 0;">*</div>
<div class="f" style="top:680px;line-height:13px;left:18.50px;transform:scaleX(0.907);transform-origin:0 0;">Ever tried cigarette smoking, even one or two puffs.</div>
<div class="fs" style="top:688px;line-height:11px;font-size:8px;right:676.70px;text-align:right;transform:scaleX(0.95);transform-origin:100% 0;">†</div>
<div class="f" style="top:689px;line-height:13px;left:18.50px;transform:scaleX(0.907);transform-origin:0 0;">Ever smoked one or more cigarettes every day for 30 days.</div>
<div class="fs" style="top:697px;line-height:11px;font-size:8px;right:676.70px;text-align:right;transform:scaleX(0.95);transform-origin:100% 0;">§</div>
<div class="f" style="top:698px;line-height:13px;left:18.50px;transform:scaleX(0.907);transform-origin:0 0;">Smoked cigarettes on &gt;1 of the 30 days preceding the survey.</div>
<div class="fs" style="top:706px;line-height:11px;font-size:8px;right:676.40px;text-align:right;transform:scaleX(0.95);transform-origin:100% 0;font-weight:bold;">¶</div>
<div class="f" style="top:706px;line-height:13px;left:18.50px;transform:scaleX(0.907);transform-origin:0 0;">95% confidence interval.</div>
<div class="fs" style="top:715px;line-height:11px;font-size:8px;right:676.70px;text-align:right;transform:scaleX(0.95);transform-origin:100% 0;">**</div>
<div class="f" style="top:715px;line-height:13px;left:18.50px;transform:scaleX(0.907);transform-origin:0 0;">Not available.</div>
<div class="fs" style="top:723px;line-height:11px;font-size:8px;right:676.70px;text-align:right;transform:scaleX(0.95);transform-origin:100% 0;">††</div>
<div class="f" style="top:724px;line-height:13px;left:18.50px;transform:scaleX(0.907);transform-origin:0 0;">Survey did not include students from one of the state’s large school districts.</div>
<div class="fs" style="top:732px;line-height:11px;font-size:8px;right:676.70px;text-align:right;transform:scaleX(0.95);transform-origin:100% 0;">§§</div>
<div class="f" style="top:732px;line-height:13px;left:18.50px;transform:scaleX(0.907);transform-origin:0 0;">PS = public school, SD = school district, ISD = independent school district, USD = unified school district.</div>
</div></body></html>
